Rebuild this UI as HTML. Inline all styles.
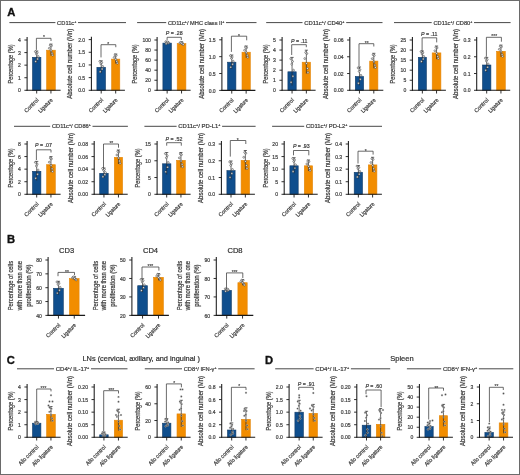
<!DOCTYPE html>
<html><head><meta charset="utf-8"><style>
html,body{margin:0;padding:0;background:#fff;}
body{width:520px;height:475px;overflow:hidden;}
svg{display:block;font-family:"Liberation Sans", sans-serif;will-change:transform;}
</style></head><body>
<svg width="520" height="475" viewBox="0 0 520 475">
<rect x="0" y="0" width="520" height="475" fill="#fff"/>
<text transform="translate(7.35 15.90) scale(1.0 1)" font-size="11.2" font-weight="bold" fill="#111" stroke="#111" stroke-width="0.35">A</text>
<line x1="9.40" y1="22.60" x2="55.40" y2="22.60" stroke="#333" stroke-width="0.9"/>
<line x1="78.00" y1="22.60" x2="126.00" y2="22.60" stroke="#333" stroke-width="0.9"/>
<text transform="translate(66.70 24.60) scale(0.973 1)" font-size="5.9" text-anchor="middle" fill="#3c3c3c" stroke="#3c3c3c" stroke-width="0.22"><tspan>CD11c</tspan><tspan font-size="3.66" dy="-2.1">+</tspan></text>
<line x1="137.10" y1="22.60" x2="166.20" y2="22.60" stroke="#333" stroke-width="0.9"/>
<line x1="226.00" y1="22.60" x2="256.50" y2="22.60" stroke="#333" stroke-width="0.9"/>
<text transform="translate(196.10 24.60) scale(0.963 1)" font-size="5.9" text-anchor="middle" fill="#3c3c3c" stroke="#3c3c3c" stroke-width="0.22"><tspan>CD11c</tspan><tspan font-size="3.66" dy="-2.1">+</tspan><tspan dy="2.1">/ MHC class II</tspan><tspan font-size="3.66" dy="-2.1">+</tspan></text>
<line x1="266.20" y1="22.60" x2="302.50" y2="22.60" stroke="#333" stroke-width="0.9"/>
<line x1="346.20" y1="22.60" x2="382.50" y2="22.60" stroke="#333" stroke-width="0.9"/>
<text transform="translate(324.35 24.60) scale(1.002 1)" font-size="5.9" text-anchor="middle" fill="#3c3c3c" stroke="#3c3c3c" stroke-width="0.22"><tspan>CD11c</tspan><tspan font-size="3.66" dy="-2.1">+</tspan><tspan dy="2.1">/ CD40</tspan><tspan font-size="3.66" dy="-2.1">+</tspan></text>
<line x1="394.00" y1="22.60" x2="431.70" y2="22.60" stroke="#333" stroke-width="0.9"/>
<line x1="474.00" y1="22.60" x2="510.60" y2="22.60" stroke="#333" stroke-width="0.9"/>
<text transform="translate(452.85 24.60) scale(0.967 1)" font-size="5.9" text-anchor="middle" fill="#3c3c3c" stroke="#3c3c3c" stroke-width="0.22"><tspan>CD11c</tspan><tspan font-size="3.66" dy="-2.1">+</tspan><tspan dy="2.1">/ CD80</tspan><tspan font-size="3.66" dy="-2.1">+</tspan></text>
<rect x="32.50" y="57.30" width="8.40" height="33.00" fill="#0f4e8d" stroke="#123b66" stroke-width="0.6"/>
<rect x="46.60" y="50.20" width="8.70" height="40.10" fill="#f28d00" stroke="#e3860a" stroke-width="0.6"/>
<line x1="36.70" y1="51.00" x2="36.70" y2="63.00" stroke="#2a2a2a" stroke-width="0.7"/>
<line x1="35.10" y1="51.00" x2="38.30" y2="51.00" stroke="#2a2a2a" stroke-width="0.7"/>
<line x1="50.95" y1="44.10" x2="50.95" y2="55.70" stroke="#2a2a2a" stroke-width="0.7"/>
<line x1="49.35" y1="44.10" x2="52.55" y2="44.10" stroke="#2a2a2a" stroke-width="0.7"/>
<circle cx="35.35" cy="51.59" r="0.95" fill="#f4f4f4" stroke="#333" stroke-width="0.5"/>
<circle cx="37.60" cy="58.99" r="0.95" fill="#f4f4f4" stroke="#333" stroke-width="0.5"/>
<circle cx="36.36" cy="53.87" r="0.95" fill="#f4f4f4" stroke="#333" stroke-width="0.5"/>
<circle cx="38.16" cy="56.43" r="0.95" fill="#f4f4f4" stroke="#333" stroke-width="0.5"/>
<circle cx="35.69" cy="61.56" r="0.95" fill="#f4f4f4" stroke="#333" stroke-width="0.5"/>
<circle cx="37.21" cy="52.73" r="0.95" fill="#f4f4f4" stroke="#333" stroke-width="0.5"/>
<circle cx="51.47" cy="45.77" r="0.95" fill="#f4f4f4" stroke="#333" stroke-width="0.5"/>
<circle cx="52.11" cy="53.21" r="0.95" fill="#f4f4f4" stroke="#333" stroke-width="0.5"/>
<circle cx="49.32" cy="48.25" r="0.95" fill="#f4f4f4" stroke="#333" stroke-width="0.5"/>
<circle cx="51.07" cy="50.73" r="0.95" fill="#f4f4f4" stroke="#333" stroke-width="0.5"/>
<circle cx="50.25" cy="45.22" r="0.95" fill="#f4f4f4" stroke="#333" stroke-width="0.5"/>
<circle cx="52.64" cy="55.13" r="0.95" fill="#f4f4f4" stroke="#333" stroke-width="0.5"/>
<line x1="27.10" y1="37.10" x2="27.10" y2="90.80" stroke="#1a1a1a" stroke-width="1.05"/>
<line x1="26.60" y1="90.30" x2="60.60" y2="90.30" stroke="#1a1a1a" stroke-width="1.1"/>
<line x1="24.40" y1="90.30" x2="27.10" y2="90.30" stroke="#1a1a1a" stroke-width="0.9"/>
<text transform="translate(20.90 92.40) scale(0.860 1.000)" font-size="5.9" text-anchor="end" fill="#3c3c3c" stroke="#3c3c3c" stroke-width="0.22">0</text>
<line x1="24.40" y1="77.72" x2="27.10" y2="77.72" stroke="#1a1a1a" stroke-width="0.9"/>
<text transform="translate(20.90 79.82) scale(0.860 1.000)" font-size="5.9" text-anchor="end" fill="#3c3c3c" stroke="#3c3c3c" stroke-width="0.22">1</text>
<line x1="24.40" y1="65.15" x2="27.10" y2="65.15" stroke="#1a1a1a" stroke-width="0.9"/>
<text transform="translate(20.90 67.25) scale(0.860 1.000)" font-size="5.9" text-anchor="end" fill="#3c3c3c" stroke="#3c3c3c" stroke-width="0.22">2</text>
<line x1="24.40" y1="52.58" x2="27.10" y2="52.58" stroke="#1a1a1a" stroke-width="0.9"/>
<text transform="translate(20.90 54.68) scale(0.860 1.000)" font-size="5.9" text-anchor="end" fill="#3c3c3c" stroke="#3c3c3c" stroke-width="0.22">3</text>
<line x1="24.40" y1="40.00" x2="27.10" y2="40.00" stroke="#1a1a1a" stroke-width="0.9"/>
<text transform="translate(20.90 42.10) scale(0.860 1.000)" font-size="5.9" text-anchor="end" fill="#3c3c3c" stroke="#3c3c3c" stroke-width="0.22">4</text>
<line x1="36.70" y1="90.30" x2="36.70" y2="93.50" stroke="#1a1a1a" stroke-width="0.9"/>
<line x1="50.95" y1="90.30" x2="50.95" y2="93.50" stroke="#1a1a1a" stroke-width="0.9"/>
<text transform="translate(39.00 100.50) rotate(-45) scale(0.963 1.000)" font-size="5.7" text-anchor="end" fill="#3c3c3c" stroke="#3c3c3c" stroke-width="0.22">Control</text>
<text transform="translate(53.25 100.50) rotate(-45) scale(0.879 1.000)" font-size="5.7" text-anchor="end" fill="#3c3c3c" stroke="#3c3c3c" stroke-width="0.22">Ligature</text>
<polyline points="36.40,49.90 36.40,38.30 51.00,38.30 51.00,41.00" fill="none" stroke="#3a3a3a" stroke-width="0.75"/>
<text transform="translate(43.90 39.30) scale(0.85 1)" font-size="5.8" text-anchor="middle" fill="#333" stroke="#333" stroke-width="0.12">*</text>
<text transform="translate(13.19 63.95) rotate(-90) scale(0.850 1.000)" font-size="6.6" text-anchor="middle" fill="#3c3c3c" stroke="#3c3c3c" stroke-width="0.22">Percentage (%)</text>
<rect x="96.90" y="67.30" width="8.60" height="23.00" fill="#0f4e8d" stroke="#123b66" stroke-width="0.6"/>
<rect x="111.60" y="59.10" width="8.20" height="31.20" fill="#f28d00" stroke="#e3860a" stroke-width="0.6"/>
<line x1="101.20" y1="60.80" x2="101.20" y2="73.20" stroke="#2a2a2a" stroke-width="0.7"/>
<line x1="99.60" y1="60.80" x2="102.80" y2="60.80" stroke="#2a2a2a" stroke-width="0.7"/>
<line x1="115.70" y1="54.00" x2="115.70" y2="63.60" stroke="#2a2a2a" stroke-width="0.7"/>
<line x1="114.10" y1="54.00" x2="117.30" y2="54.00" stroke="#2a2a2a" stroke-width="0.7"/>
<circle cx="99.82" cy="61.40" r="0.95" fill="#f4f4f4" stroke="#333" stroke-width="0.5"/>
<circle cx="102.12" cy="69.06" r="0.95" fill="#f4f4f4" stroke="#333" stroke-width="0.5"/>
<circle cx="100.85" cy="63.76" r="0.95" fill="#f4f4f4" stroke="#333" stroke-width="0.5"/>
<circle cx="102.69" cy="66.41" r="0.95" fill="#f4f4f4" stroke="#333" stroke-width="0.5"/>
<circle cx="100.16" cy="71.71" r="0.95" fill="#f4f4f4" stroke="#333" stroke-width="0.5"/>
<circle cx="101.72" cy="62.58" r="0.95" fill="#f4f4f4" stroke="#333" stroke-width="0.5"/>
<circle cx="116.19" cy="55.38" r="0.95" fill="#f4f4f4" stroke="#333" stroke-width="0.5"/>
<circle cx="116.80" cy="61.54" r="0.95" fill="#f4f4f4" stroke="#333" stroke-width="0.5"/>
<circle cx="114.16" cy="57.43" r="0.95" fill="#f4f4f4" stroke="#333" stroke-width="0.5"/>
<circle cx="115.81" cy="59.48" r="0.95" fill="#f4f4f4" stroke="#333" stroke-width="0.5"/>
<circle cx="115.04" cy="54.92" r="0.95" fill="#f4f4f4" stroke="#333" stroke-width="0.5"/>
<circle cx="117.29" cy="63.13" r="0.95" fill="#f4f4f4" stroke="#333" stroke-width="0.5"/>
<line x1="91.40" y1="36.70" x2="91.40" y2="90.80" stroke="#1a1a1a" stroke-width="1.05"/>
<line x1="90.90" y1="90.30" x2="124.90" y2="90.30" stroke="#1a1a1a" stroke-width="1.1"/>
<line x1="88.70" y1="90.30" x2="91.40" y2="90.30" stroke="#1a1a1a" stroke-width="0.9"/>
<text transform="translate(85.20 92.40) scale(0.860 1.000)" font-size="5.9" text-anchor="end" fill="#3c3c3c" stroke="#3c3c3c" stroke-width="0.22">0.0</text>
<line x1="88.70" y1="77.62" x2="91.40" y2="77.62" stroke="#1a1a1a" stroke-width="0.9"/>
<text transform="translate(85.20 79.72) scale(0.860 1.000)" font-size="5.9" text-anchor="end" fill="#3c3c3c" stroke="#3c3c3c" stroke-width="0.22">0.5</text>
<line x1="88.70" y1="64.95" x2="91.40" y2="64.95" stroke="#1a1a1a" stroke-width="0.9"/>
<text transform="translate(85.20 67.05) scale(0.860 1.000)" font-size="5.9" text-anchor="end" fill="#3c3c3c" stroke="#3c3c3c" stroke-width="0.22">1.0</text>
<line x1="88.70" y1="52.27" x2="91.40" y2="52.27" stroke="#1a1a1a" stroke-width="0.9"/>
<text transform="translate(85.20 54.38) scale(0.860 1.000)" font-size="5.9" text-anchor="end" fill="#3c3c3c" stroke="#3c3c3c" stroke-width="0.22">1.5</text>
<line x1="88.70" y1="39.60" x2="91.40" y2="39.60" stroke="#1a1a1a" stroke-width="0.9"/>
<text transform="translate(85.20 41.70) scale(0.860 1.000)" font-size="5.9" text-anchor="end" fill="#3c3c3c" stroke="#3c3c3c" stroke-width="0.22">2.0</text>
<line x1="101.20" y1="90.30" x2="101.20" y2="93.50" stroke="#1a1a1a" stroke-width="0.9"/>
<line x1="115.70" y1="90.30" x2="115.70" y2="93.50" stroke="#1a1a1a" stroke-width="0.9"/>
<text transform="translate(103.50 100.50) rotate(-45) scale(0.963 1.000)" font-size="5.7" text-anchor="end" fill="#3c3c3c" stroke="#3c3c3c" stroke-width="0.22">Control</text>
<text transform="translate(118.00 100.50) rotate(-45) scale(0.879 1.000)" font-size="5.7" text-anchor="end" fill="#3c3c3c" stroke="#3c3c3c" stroke-width="0.22">Ligature</text>
<polyline points="101.00,57.40 101.00,44.70 115.80,44.70 115.80,47.20" fill="none" stroke="#3a3a3a" stroke-width="0.75"/>
<text transform="translate(108.20 45.50) scale(0.85 1)" font-size="5.8" text-anchor="middle" fill="#333" stroke="#333" stroke-width="0.12">*</text>
<text transform="translate(72.39 63.75) rotate(-90) scale(0.909 1.000)" font-size="6.6" text-anchor="middle" fill="#3c3c3c" stroke="#3c3c3c" stroke-width="0.22">Absolute cell number (Mn)</text>
<rect x="162.90" y="43.10" width="8.50" height="47.20" fill="#0f4e8d" stroke="#123b66" stroke-width="0.6"/>
<rect x="177.20" y="43.60" width="8.70" height="46.70" fill="#f28d00" stroke="#e3860a" stroke-width="0.6"/>
<line x1="167.15" y1="41.50" x2="167.15" y2="44.10" stroke="#2a2a2a" stroke-width="0.7"/>
<line x1="165.55" y1="41.50" x2="168.75" y2="41.50" stroke="#2a2a2a" stroke-width="0.7"/>
<line x1="181.55" y1="42.00" x2="181.55" y2="44.60" stroke="#2a2a2a" stroke-width="0.7"/>
<line x1="179.95" y1="42.00" x2="183.15" y2="42.00" stroke="#2a2a2a" stroke-width="0.7"/>
<circle cx="165.78" cy="41.63" r="0.95" fill="#f4f4f4" stroke="#333" stroke-width="0.5"/>
<circle cx="168.06" cy="43.23" r="0.95" fill="#f4f4f4" stroke="#333" stroke-width="0.5"/>
<circle cx="166.81" cy="42.12" r="0.95" fill="#f4f4f4" stroke="#333" stroke-width="0.5"/>
<circle cx="168.63" cy="42.68" r="0.95" fill="#f4f4f4" stroke="#333" stroke-width="0.5"/>
<circle cx="166.13" cy="43.79" r="0.95" fill="#f4f4f4" stroke="#333" stroke-width="0.5"/>
<circle cx="167.66" cy="41.87" r="0.95" fill="#f4f4f4" stroke="#333" stroke-width="0.5"/>
<circle cx="182.07" cy="42.37" r="0.95" fill="#f4f4f4" stroke="#333" stroke-width="0.5"/>
<circle cx="182.71" cy="44.04" r="0.95" fill="#f4f4f4" stroke="#333" stroke-width="0.5"/>
<circle cx="179.92" cy="42.93" r="0.95" fill="#f4f4f4" stroke="#333" stroke-width="0.5"/>
<circle cx="181.67" cy="43.49" r="0.95" fill="#f4f4f4" stroke="#333" stroke-width="0.5"/>
<circle cx="180.85" cy="42.25" r="0.95" fill="#f4f4f4" stroke="#333" stroke-width="0.5"/>
<circle cx="183.24" cy="44.47" r="0.95" fill="#f4f4f4" stroke="#333" stroke-width="0.5"/>
<line x1="157.10" y1="37.10" x2="157.10" y2="90.80" stroke="#1a1a1a" stroke-width="1.05"/>
<line x1="156.60" y1="90.30" x2="190.60" y2="90.30" stroke="#1a1a1a" stroke-width="1.1"/>
<line x1="154.40" y1="90.30" x2="157.10" y2="90.30" stroke="#1a1a1a" stroke-width="0.9"/>
<text transform="translate(150.90 92.40) scale(0.860 1.000)" font-size="5.9" text-anchor="end" fill="#3c3c3c" stroke="#3c3c3c" stroke-width="0.22">0</text>
<line x1="154.40" y1="80.24" x2="157.10" y2="80.24" stroke="#1a1a1a" stroke-width="0.9"/>
<text transform="translate(150.90 82.34) scale(0.860 1.000)" font-size="5.9" text-anchor="end" fill="#3c3c3c" stroke="#3c3c3c" stroke-width="0.22">20</text>
<line x1="154.40" y1="70.18" x2="157.10" y2="70.18" stroke="#1a1a1a" stroke-width="0.9"/>
<text transform="translate(150.90 72.28) scale(0.860 1.000)" font-size="5.9" text-anchor="end" fill="#3c3c3c" stroke="#3c3c3c" stroke-width="0.22">40</text>
<line x1="154.40" y1="60.12" x2="157.10" y2="60.12" stroke="#1a1a1a" stroke-width="0.9"/>
<text transform="translate(150.90 62.22) scale(0.860 1.000)" font-size="5.9" text-anchor="end" fill="#3c3c3c" stroke="#3c3c3c" stroke-width="0.22">60</text>
<line x1="154.40" y1="50.06" x2="157.10" y2="50.06" stroke="#1a1a1a" stroke-width="0.9"/>
<text transform="translate(150.90 52.16) scale(0.860 1.000)" font-size="5.9" text-anchor="end" fill="#3c3c3c" stroke="#3c3c3c" stroke-width="0.22">80</text>
<line x1="154.40" y1="40.00" x2="157.10" y2="40.00" stroke="#1a1a1a" stroke-width="0.9"/>
<text transform="translate(150.90 42.10) scale(0.860 1.000)" font-size="5.9" text-anchor="end" fill="#3c3c3c" stroke="#3c3c3c" stroke-width="0.22">100</text>
<line x1="167.15" y1="90.30" x2="167.15" y2="93.50" stroke="#1a1a1a" stroke-width="0.9"/>
<line x1="181.55" y1="90.30" x2="181.55" y2="93.50" stroke="#1a1a1a" stroke-width="0.9"/>
<text transform="translate(169.45 100.50) rotate(-45) scale(0.963 1.000)" font-size="5.7" text-anchor="end" fill="#3c3c3c" stroke="#3c3c3c" stroke-width="0.22">Control</text>
<text transform="translate(183.85 100.50) rotate(-45) scale(0.879 1.000)" font-size="5.7" text-anchor="end" fill="#3c3c3c" stroke="#3c3c3c" stroke-width="0.22">Ligature</text>
<polyline points="167.10,40.00 167.10,37.30 181.30,37.30 181.30,40.00" fill="none" stroke="#3a3a3a" stroke-width="0.75"/>
<text transform="translate(174.20 35.10) scale(0.88 1)" font-size="6" text-anchor="middle" fill="#3c3c3c" stroke="#3c3c3c" stroke-width="0.22"><tspan font-style="italic">P</tspan> = .28</text>
<text transform="translate(137.39 63.95) rotate(-90) scale(0.850 1.000)" font-size="6.6" text-anchor="middle" fill="#3c3c3c" stroke="#3c3c3c" stroke-width="0.22">Percentage (%)</text>
<rect x="227.60" y="62.20" width="8.30" height="28.20" fill="#0f4e8d" stroke="#123b66" stroke-width="0.6"/>
<rect x="242.00" y="52.20" width="8.30" height="38.20" fill="#f28d00" stroke="#e3860a" stroke-width="0.6"/>
<line x1="231.75" y1="55.00" x2="231.75" y2="68.80" stroke="#2a2a2a" stroke-width="0.7"/>
<line x1="230.15" y1="55.00" x2="233.35" y2="55.00" stroke="#2a2a2a" stroke-width="0.7"/>
<line x1="246.15" y1="46.00" x2="246.15" y2="57.80" stroke="#2a2a2a" stroke-width="0.7"/>
<line x1="244.55" y1="46.00" x2="247.75" y2="46.00" stroke="#2a2a2a" stroke-width="0.7"/>
<circle cx="230.41" cy="55.67" r="0.95" fill="#f4f4f4" stroke="#333" stroke-width="0.5"/>
<circle cx="232.64" cy="64.19" r="0.95" fill="#f4f4f4" stroke="#333" stroke-width="0.5"/>
<circle cx="231.42" cy="58.29" r="0.95" fill="#f4f4f4" stroke="#333" stroke-width="0.5"/>
<circle cx="233.20" cy="61.24" r="0.95" fill="#f4f4f4" stroke="#333" stroke-width="0.5"/>
<circle cx="230.75" cy="67.14" r="0.95" fill="#f4f4f4" stroke="#333" stroke-width="0.5"/>
<circle cx="232.25" cy="56.98" r="0.95" fill="#f4f4f4" stroke="#333" stroke-width="0.5"/>
<circle cx="246.65" cy="47.70" r="0.95" fill="#f4f4f4" stroke="#333" stroke-width="0.5"/>
<circle cx="247.26" cy="55.26" r="0.95" fill="#f4f4f4" stroke="#333" stroke-width="0.5"/>
<circle cx="244.59" cy="50.22" r="0.95" fill="#f4f4f4" stroke="#333" stroke-width="0.5"/>
<circle cx="246.26" cy="52.74" r="0.95" fill="#f4f4f4" stroke="#333" stroke-width="0.5"/>
<circle cx="245.48" cy="47.14" r="0.95" fill="#f4f4f4" stroke="#333" stroke-width="0.5"/>
<circle cx="247.76" cy="57.22" r="0.95" fill="#f4f4f4" stroke="#333" stroke-width="0.5"/>
<line x1="221.90" y1="36.90" x2="221.90" y2="90.90" stroke="#1a1a1a" stroke-width="1.05"/>
<line x1="221.40" y1="90.40" x2="255.40" y2="90.40" stroke="#1a1a1a" stroke-width="1.1"/>
<line x1="219.20" y1="90.40" x2="221.90" y2="90.40" stroke="#1a1a1a" stroke-width="0.9"/>
<text transform="translate(215.70 92.50) scale(0.860 1.000)" font-size="5.9" text-anchor="end" fill="#3c3c3c" stroke="#3c3c3c" stroke-width="0.22">0.0</text>
<line x1="219.20" y1="73.53" x2="221.90" y2="73.53" stroke="#1a1a1a" stroke-width="0.9"/>
<text transform="translate(215.70 75.63) scale(0.860 1.000)" font-size="5.9" text-anchor="end" fill="#3c3c3c" stroke="#3c3c3c" stroke-width="0.22">0.5</text>
<line x1="219.20" y1="56.67" x2="221.90" y2="56.67" stroke="#1a1a1a" stroke-width="0.9"/>
<text transform="translate(215.70 58.77) scale(0.860 1.000)" font-size="5.9" text-anchor="end" fill="#3c3c3c" stroke="#3c3c3c" stroke-width="0.22">1.0</text>
<line x1="219.20" y1="39.80" x2="221.90" y2="39.80" stroke="#1a1a1a" stroke-width="0.9"/>
<text transform="translate(215.70 41.90) scale(0.860 1.000)" font-size="5.9" text-anchor="end" fill="#3c3c3c" stroke="#3c3c3c" stroke-width="0.22">1.5</text>
<line x1="231.75" y1="90.40" x2="231.75" y2="93.60" stroke="#1a1a1a" stroke-width="0.9"/>
<line x1="246.15" y1="90.40" x2="246.15" y2="93.60" stroke="#1a1a1a" stroke-width="0.9"/>
<text transform="translate(234.05 100.60) rotate(-45) scale(0.963 1.000)" font-size="5.7" text-anchor="end" fill="#3c3c3c" stroke="#3c3c3c" stroke-width="0.22">Control</text>
<text transform="translate(248.45 100.60) rotate(-45) scale(0.879 1.000)" font-size="5.7" text-anchor="end" fill="#3c3c3c" stroke="#3c3c3c" stroke-width="0.22">Ligature</text>
<polyline points="231.40,51.90 231.40,36.20 246.70,36.20 246.70,40.30" fill="none" stroke="#3a3a3a" stroke-width="0.75"/>
<text transform="translate(239.00 37.60) scale(0.85 1)" font-size="5.8" text-anchor="middle" fill="#333" stroke="#333" stroke-width="0.12">*</text>
<text transform="translate(203.99 63.90) rotate(-90) scale(0.909 1.000)" font-size="6.6" text-anchor="middle" fill="#3c3c3c" stroke="#3c3c3c" stroke-width="0.22">Absolute cell number (Mn)</text>
<rect x="287.90" y="71.80" width="8.30" height="18.50" fill="#0f4e8d" stroke="#123b66" stroke-width="0.6"/>
<rect x="302.20" y="62.20" width="8.30" height="28.10" fill="#f28d00" stroke="#e3860a" stroke-width="0.6"/>
<line x1="292.05" y1="57.40" x2="292.05" y2="85.60" stroke="#2a2a2a" stroke-width="0.7"/>
<line x1="290.45" y1="57.40" x2="293.65" y2="57.40" stroke="#2a2a2a" stroke-width="0.7"/>
<line x1="306.35" y1="50.20" x2="306.35" y2="73.60" stroke="#2a2a2a" stroke-width="0.7"/>
<line x1="304.75" y1="50.20" x2="307.95" y2="50.20" stroke="#2a2a2a" stroke-width="0.7"/>
<circle cx="290.72" cy="58.77" r="0.95" fill="#f4f4f4" stroke="#333" stroke-width="0.5"/>
<circle cx="292.94" cy="76.19" r="0.95" fill="#f4f4f4" stroke="#333" stroke-width="0.5"/>
<circle cx="291.72" cy="64.13" r="0.95" fill="#f4f4f4" stroke="#333" stroke-width="0.5"/>
<circle cx="293.50" cy="70.16" r="0.95" fill="#f4f4f4" stroke="#333" stroke-width="0.5"/>
<circle cx="291.05" cy="82.22" r="0.95" fill="#f4f4f4" stroke="#333" stroke-width="0.5"/>
<circle cx="292.55" cy="61.45" r="0.95" fill="#f4f4f4" stroke="#333" stroke-width="0.5"/>
<circle cx="306.85" cy="53.56" r="0.95" fill="#f4f4f4" stroke="#333" stroke-width="0.5"/>
<circle cx="307.46" cy="68.57" r="0.95" fill="#f4f4f4" stroke="#333" stroke-width="0.5"/>
<circle cx="304.79" cy="58.57" r="0.95" fill="#f4f4f4" stroke="#333" stroke-width="0.5"/>
<circle cx="306.46" cy="63.57" r="0.95" fill="#f4f4f4" stroke="#333" stroke-width="0.5"/>
<circle cx="305.68" cy="52.45" r="0.95" fill="#f4f4f4" stroke="#333" stroke-width="0.5"/>
<circle cx="307.96" cy="72.46" r="0.95" fill="#f4f4f4" stroke="#333" stroke-width="0.5"/>
<line x1="282.10" y1="37.10" x2="282.10" y2="90.80" stroke="#1a1a1a" stroke-width="1.05"/>
<line x1="281.60" y1="90.30" x2="315.60" y2="90.30" stroke="#1a1a1a" stroke-width="1.1"/>
<line x1="279.40" y1="90.30" x2="282.10" y2="90.30" stroke="#1a1a1a" stroke-width="0.9"/>
<text transform="translate(275.90 92.40) scale(0.860 1.000)" font-size="5.9" text-anchor="end" fill="#3c3c3c" stroke="#3c3c3c" stroke-width="0.22">0</text>
<line x1="279.40" y1="80.24" x2="282.10" y2="80.24" stroke="#1a1a1a" stroke-width="0.9"/>
<text transform="translate(275.90 82.34) scale(0.860 1.000)" font-size="5.9" text-anchor="end" fill="#3c3c3c" stroke="#3c3c3c" stroke-width="0.22">1</text>
<line x1="279.40" y1="70.18" x2="282.10" y2="70.18" stroke="#1a1a1a" stroke-width="0.9"/>
<text transform="translate(275.90 72.28) scale(0.860 1.000)" font-size="5.9" text-anchor="end" fill="#3c3c3c" stroke="#3c3c3c" stroke-width="0.22">2</text>
<line x1="279.40" y1="60.12" x2="282.10" y2="60.12" stroke="#1a1a1a" stroke-width="0.9"/>
<text transform="translate(275.90 62.22) scale(0.860 1.000)" font-size="5.9" text-anchor="end" fill="#3c3c3c" stroke="#3c3c3c" stroke-width="0.22">3</text>
<line x1="279.40" y1="50.06" x2="282.10" y2="50.06" stroke="#1a1a1a" stroke-width="0.9"/>
<text transform="translate(275.90 52.16) scale(0.860 1.000)" font-size="5.9" text-anchor="end" fill="#3c3c3c" stroke="#3c3c3c" stroke-width="0.22">4</text>
<line x1="279.40" y1="40.00" x2="282.10" y2="40.00" stroke="#1a1a1a" stroke-width="0.9"/>
<text transform="translate(275.90 42.10) scale(0.860 1.000)" font-size="5.9" text-anchor="end" fill="#3c3c3c" stroke="#3c3c3c" stroke-width="0.22">5</text>
<line x1="292.05" y1="90.30" x2="292.05" y2="93.50" stroke="#1a1a1a" stroke-width="0.9"/>
<line x1="306.35" y1="90.30" x2="306.35" y2="93.50" stroke="#1a1a1a" stroke-width="0.9"/>
<text transform="translate(294.35 100.50) rotate(-45) scale(0.963 1.000)" font-size="5.7" text-anchor="end" fill="#3c3c3c" stroke="#3c3c3c" stroke-width="0.22">Control</text>
<text transform="translate(308.65 100.50) rotate(-45) scale(0.879 1.000)" font-size="5.7" text-anchor="end" fill="#3c3c3c" stroke="#3c3c3c" stroke-width="0.22">Ligature</text>
<polyline points="291.70,55.00 291.70,44.70 306.30,44.70 306.30,47.20" fill="none" stroke="#3a3a3a" stroke-width="0.75"/>
<text transform="translate(299.20 43.00) scale(0.88 1)" font-size="6" text-anchor="middle" fill="#3c3c3c" stroke="#3c3c3c" stroke-width="0.22"><tspan font-style="italic">P</tspan> = .11</text>
<text transform="translate(268.49 63.95) rotate(-90) scale(0.850 1.000)" font-size="6.6" text-anchor="middle" fill="#3c3c3c" stroke="#3c3c3c" stroke-width="0.22">Percentage (%)</text>
<rect x="355.30" y="76.50" width="8.30" height="13.80" fill="#0f4e8d" stroke="#123b66" stroke-width="0.6"/>
<rect x="369.70" y="61.10" width="8.20" height="29.20" fill="#f28d00" stroke="#e3860a" stroke-width="0.6"/>
<line x1="359.45" y1="67.00" x2="359.45" y2="85.40" stroke="#2a2a2a" stroke-width="0.7"/>
<line x1="357.85" y1="67.00" x2="361.05" y2="67.00" stroke="#2a2a2a" stroke-width="0.7"/>
<line x1="373.80" y1="53.30" x2="373.80" y2="68.30" stroke="#2a2a2a" stroke-width="0.7"/>
<line x1="372.20" y1="53.30" x2="375.40" y2="53.30" stroke="#2a2a2a" stroke-width="0.7"/>
<circle cx="358.12" cy="67.90" r="0.95" fill="#f4f4f4" stroke="#333" stroke-width="0.5"/>
<circle cx="360.34" cy="79.26" r="0.95" fill="#f4f4f4" stroke="#333" stroke-width="0.5"/>
<circle cx="359.12" cy="71.39" r="0.95" fill="#f4f4f4" stroke="#333" stroke-width="0.5"/>
<circle cx="360.90" cy="75.33" r="0.95" fill="#f4f4f4" stroke="#333" stroke-width="0.5"/>
<circle cx="358.45" cy="83.19" r="0.95" fill="#f4f4f4" stroke="#333" stroke-width="0.5"/>
<circle cx="359.95" cy="69.64" r="0.95" fill="#f4f4f4" stroke="#333" stroke-width="0.5"/>
<circle cx="374.29" cy="55.46" r="0.95" fill="#f4f4f4" stroke="#333" stroke-width="0.5"/>
<circle cx="374.90" cy="65.08" r="0.95" fill="#f4f4f4" stroke="#333" stroke-width="0.5"/>
<circle cx="372.26" cy="58.66" r="0.95" fill="#f4f4f4" stroke="#333" stroke-width="0.5"/>
<circle cx="373.91" cy="61.87" r="0.95" fill="#f4f4f4" stroke="#333" stroke-width="0.5"/>
<circle cx="373.14" cy="54.74" r="0.95" fill="#f4f4f4" stroke="#333" stroke-width="0.5"/>
<circle cx="375.39" cy="67.57" r="0.95" fill="#f4f4f4" stroke="#333" stroke-width="0.5"/>
<line x1="349.80" y1="37.10" x2="349.80" y2="90.80" stroke="#1a1a1a" stroke-width="1.05"/>
<line x1="349.30" y1="90.30" x2="383.30" y2="90.30" stroke="#1a1a1a" stroke-width="1.1"/>
<line x1="347.10" y1="90.30" x2="349.80" y2="90.30" stroke="#1a1a1a" stroke-width="0.9"/>
<text transform="translate(343.60 92.40) scale(0.860 1.000)" font-size="5.9" text-anchor="end" fill="#3c3c3c" stroke="#3c3c3c" stroke-width="0.22">0.00</text>
<line x1="347.10" y1="73.53" x2="349.80" y2="73.53" stroke="#1a1a1a" stroke-width="0.9"/>
<text transform="translate(343.60 75.63) scale(0.860 1.000)" font-size="5.9" text-anchor="end" fill="#3c3c3c" stroke="#3c3c3c" stroke-width="0.22">0.02</text>
<line x1="347.10" y1="56.77" x2="349.80" y2="56.77" stroke="#1a1a1a" stroke-width="0.9"/>
<text transform="translate(343.60 58.87) scale(0.860 1.000)" font-size="5.9" text-anchor="end" fill="#3c3c3c" stroke="#3c3c3c" stroke-width="0.22">0.04</text>
<line x1="347.10" y1="40.00" x2="349.80" y2="40.00" stroke="#1a1a1a" stroke-width="0.9"/>
<text transform="translate(343.60 42.10) scale(0.860 1.000)" font-size="5.9" text-anchor="end" fill="#3c3c3c" stroke="#3c3c3c" stroke-width="0.22">0.06</text>
<line x1="359.45" y1="90.30" x2="359.45" y2="93.50" stroke="#1a1a1a" stroke-width="0.9"/>
<line x1="373.80" y1="90.30" x2="373.80" y2="93.50" stroke="#1a1a1a" stroke-width="0.9"/>
<text transform="translate(361.75 100.50) rotate(-45) scale(0.963 1.000)" font-size="5.7" text-anchor="end" fill="#3c3c3c" stroke="#3c3c3c" stroke-width="0.22">Control</text>
<text transform="translate(376.10 100.50) rotate(-45) scale(0.879 1.000)" font-size="5.7" text-anchor="end" fill="#3c3c3c" stroke="#3c3c3c" stroke-width="0.22">Ligature</text>
<polyline points="359.00,66.30 359.00,43.70 373.80,43.70 373.80,46.50" fill="none" stroke="#3a3a3a" stroke-width="0.75"/>
<text transform="translate(366.70 44.80) scale(0.85 1)" font-size="5.8" text-anchor="middle" fill="#333" stroke="#333" stroke-width="0.12">**</text>
<text transform="translate(327.69 63.95) rotate(-90) scale(0.909 1.000)" font-size="6.6" text-anchor="middle" fill="#3c3c3c" stroke="#3c3c3c" stroke-width="0.22">Absolute cell number (Mn)</text>
<rect x="418.30" y="57.30" width="8.10" height="33.00" fill="#0f4e8d" stroke="#123b66" stroke-width="0.6"/>
<rect x="432.20" y="52.90" width="8.70" height="37.40" fill="#f28d00" stroke="#e3860a" stroke-width="0.6"/>
<line x1="422.35" y1="51.00" x2="422.35" y2="63.00" stroke="#2a2a2a" stroke-width="0.7"/>
<line x1="420.75" y1="51.00" x2="423.95" y2="51.00" stroke="#2a2a2a" stroke-width="0.7"/>
<line x1="436.55" y1="46.00" x2="436.55" y2="59.20" stroke="#2a2a2a" stroke-width="0.7"/>
<line x1="434.95" y1="46.00" x2="438.15" y2="46.00" stroke="#2a2a2a" stroke-width="0.7"/>
<circle cx="421.05" cy="51.59" r="0.95" fill="#f4f4f4" stroke="#333" stroke-width="0.5"/>
<circle cx="423.22" cy="58.99" r="0.95" fill="#f4f4f4" stroke="#333" stroke-width="0.5"/>
<circle cx="422.02" cy="53.87" r="0.95" fill="#f4f4f4" stroke="#333" stroke-width="0.5"/>
<circle cx="423.76" cy="56.43" r="0.95" fill="#f4f4f4" stroke="#333" stroke-width="0.5"/>
<circle cx="421.37" cy="61.56" r="0.95" fill="#f4f4f4" stroke="#333" stroke-width="0.5"/>
<circle cx="422.84" cy="52.73" r="0.95" fill="#f4f4f4" stroke="#333" stroke-width="0.5"/>
<circle cx="437.07" cy="47.90" r="0.95" fill="#f4f4f4" stroke="#333" stroke-width="0.5"/>
<circle cx="437.71" cy="56.36" r="0.95" fill="#f4f4f4" stroke="#333" stroke-width="0.5"/>
<circle cx="434.92" cy="50.72" r="0.95" fill="#f4f4f4" stroke="#333" stroke-width="0.5"/>
<circle cx="436.67" cy="53.54" r="0.95" fill="#f4f4f4" stroke="#333" stroke-width="0.5"/>
<circle cx="435.85" cy="47.27" r="0.95" fill="#f4f4f4" stroke="#333" stroke-width="0.5"/>
<circle cx="438.24" cy="58.56" r="0.95" fill="#f4f4f4" stroke="#333" stroke-width="0.5"/>
<line x1="412.40" y1="37.10" x2="412.40" y2="90.80" stroke="#1a1a1a" stroke-width="1.05"/>
<line x1="411.90" y1="90.30" x2="445.90" y2="90.30" stroke="#1a1a1a" stroke-width="1.1"/>
<line x1="409.70" y1="90.30" x2="412.40" y2="90.30" stroke="#1a1a1a" stroke-width="0.9"/>
<text transform="translate(406.20 92.40) scale(0.860 1.000)" font-size="5.9" text-anchor="end" fill="#3c3c3c" stroke="#3c3c3c" stroke-width="0.22">0</text>
<line x1="409.70" y1="80.24" x2="412.40" y2="80.24" stroke="#1a1a1a" stroke-width="0.9"/>
<text transform="translate(406.20 82.34) scale(0.860 1.000)" font-size="5.9" text-anchor="end" fill="#3c3c3c" stroke="#3c3c3c" stroke-width="0.22">5</text>
<line x1="409.70" y1="70.18" x2="412.40" y2="70.18" stroke="#1a1a1a" stroke-width="0.9"/>
<text transform="translate(406.20 72.28) scale(0.860 1.000)" font-size="5.9" text-anchor="end" fill="#3c3c3c" stroke="#3c3c3c" stroke-width="0.22">10</text>
<line x1="409.70" y1="60.12" x2="412.40" y2="60.12" stroke="#1a1a1a" stroke-width="0.9"/>
<text transform="translate(406.20 62.22) scale(0.860 1.000)" font-size="5.9" text-anchor="end" fill="#3c3c3c" stroke="#3c3c3c" stroke-width="0.22">15</text>
<line x1="409.70" y1="50.06" x2="412.40" y2="50.06" stroke="#1a1a1a" stroke-width="0.9"/>
<text transform="translate(406.20 52.16) scale(0.860 1.000)" font-size="5.9" text-anchor="end" fill="#3c3c3c" stroke="#3c3c3c" stroke-width="0.22">20</text>
<line x1="409.70" y1="40.00" x2="412.40" y2="40.00" stroke="#1a1a1a" stroke-width="0.9"/>
<text transform="translate(406.20 42.10) scale(0.860 1.000)" font-size="5.9" text-anchor="end" fill="#3c3c3c" stroke="#3c3c3c" stroke-width="0.22">25</text>
<line x1="422.35" y1="90.30" x2="422.35" y2="93.50" stroke="#1a1a1a" stroke-width="0.9"/>
<line x1="436.55" y1="90.30" x2="436.55" y2="93.50" stroke="#1a1a1a" stroke-width="0.9"/>
<text transform="translate(424.65 100.50) rotate(-45) scale(0.963 1.000)" font-size="5.7" text-anchor="end" fill="#3c3c3c" stroke="#3c3c3c" stroke-width="0.22">Control</text>
<text transform="translate(438.85 100.50) rotate(-45) scale(0.879 1.000)" font-size="5.7" text-anchor="end" fill="#3c3c3c" stroke="#3c3c3c" stroke-width="0.22">Ligature</text>
<polyline points="422.10,51.30 422.10,37.80 436.70,37.80 436.70,42.40" fill="none" stroke="#3a3a3a" stroke-width="0.75"/>
<text transform="translate(429.20 35.80) scale(0.88 1)" font-size="6" text-anchor="middle" fill="#3c3c3c" stroke="#3c3c3c" stroke-width="0.22"><tspan font-style="italic">P</tspan> = .11</text>
<text transform="translate(395.39 63.95) rotate(-90) scale(0.850 1.000)" font-size="6.6" text-anchor="middle" fill="#3c3c3c" stroke="#3c3c3c" stroke-width="0.22">Percentage (%)</text>
<rect x="482.50" y="65.00" width="8.40" height="25.30" fill="#0f4e8d" stroke="#123b66" stroke-width="0.6"/>
<rect x="496.60" y="51.30" width="8.70" height="39.00" fill="#f28d00" stroke="#e3860a" stroke-width="0.6"/>
<line x1="486.70" y1="57.40" x2="486.70" y2="72.00" stroke="#2a2a2a" stroke-width="0.7"/>
<line x1="485.10" y1="57.40" x2="488.30" y2="57.40" stroke="#2a2a2a" stroke-width="0.7"/>
<line x1="500.95" y1="45.10" x2="500.95" y2="56.90" stroke="#2a2a2a" stroke-width="0.7"/>
<line x1="499.35" y1="45.10" x2="502.55" y2="45.10" stroke="#2a2a2a" stroke-width="0.7"/>
<circle cx="485.35" cy="58.11" r="0.95" fill="#f4f4f4" stroke="#333" stroke-width="0.5"/>
<circle cx="487.60" cy="67.13" r="0.95" fill="#f4f4f4" stroke="#333" stroke-width="0.5"/>
<circle cx="486.36" cy="60.89" r="0.95" fill="#f4f4f4" stroke="#333" stroke-width="0.5"/>
<circle cx="488.16" cy="64.01" r="0.95" fill="#f4f4f4" stroke="#333" stroke-width="0.5"/>
<circle cx="485.69" cy="70.25" r="0.95" fill="#f4f4f4" stroke="#333" stroke-width="0.5"/>
<circle cx="487.21" cy="59.50" r="0.95" fill="#f4f4f4" stroke="#333" stroke-width="0.5"/>
<circle cx="501.47" cy="46.80" r="0.95" fill="#f4f4f4" stroke="#333" stroke-width="0.5"/>
<circle cx="502.11" cy="54.36" r="0.95" fill="#f4f4f4" stroke="#333" stroke-width="0.5"/>
<circle cx="499.32" cy="49.32" r="0.95" fill="#f4f4f4" stroke="#333" stroke-width="0.5"/>
<circle cx="501.07" cy="51.84" r="0.95" fill="#f4f4f4" stroke="#333" stroke-width="0.5"/>
<circle cx="500.25" cy="46.24" r="0.95" fill="#f4f4f4" stroke="#333" stroke-width="0.5"/>
<circle cx="502.64" cy="56.32" r="0.95" fill="#f4f4f4" stroke="#333" stroke-width="0.5"/>
<line x1="476.70" y1="37.10" x2="476.70" y2="90.80" stroke="#1a1a1a" stroke-width="1.05"/>
<line x1="476.20" y1="90.30" x2="510.20" y2="90.30" stroke="#1a1a1a" stroke-width="1.1"/>
<line x1="474.00" y1="90.30" x2="476.70" y2="90.30" stroke="#1a1a1a" stroke-width="0.9"/>
<text transform="translate(470.50 92.40) scale(0.860 1.000)" font-size="5.9" text-anchor="end" fill="#3c3c3c" stroke="#3c3c3c" stroke-width="0.22">0.0</text>
<line x1="474.00" y1="73.53" x2="476.70" y2="73.53" stroke="#1a1a1a" stroke-width="0.9"/>
<text transform="translate(470.50 75.63) scale(0.860 1.000)" font-size="5.9" text-anchor="end" fill="#3c3c3c" stroke="#3c3c3c" stroke-width="0.22">0.1</text>
<line x1="474.00" y1="56.77" x2="476.70" y2="56.77" stroke="#1a1a1a" stroke-width="0.9"/>
<text transform="translate(470.50 58.87) scale(0.860 1.000)" font-size="5.9" text-anchor="end" fill="#3c3c3c" stroke="#3c3c3c" stroke-width="0.22">0.2</text>
<line x1="474.00" y1="40.00" x2="476.70" y2="40.00" stroke="#1a1a1a" stroke-width="0.9"/>
<text transform="translate(470.50 42.10) scale(0.860 1.000)" font-size="5.9" text-anchor="end" fill="#3c3c3c" stroke="#3c3c3c" stroke-width="0.22">0.3</text>
<line x1="486.70" y1="90.30" x2="486.70" y2="93.50" stroke="#1a1a1a" stroke-width="0.9"/>
<line x1="500.95" y1="90.30" x2="500.95" y2="93.50" stroke="#1a1a1a" stroke-width="0.9"/>
<text transform="translate(489.00 100.50) rotate(-45) scale(0.963 1.000)" font-size="5.7" text-anchor="end" fill="#3c3c3c" stroke="#3c3c3c" stroke-width="0.22">Control</text>
<text transform="translate(503.25 100.50) rotate(-45) scale(0.879 1.000)" font-size="5.7" text-anchor="end" fill="#3c3c3c" stroke="#3c3c3c" stroke-width="0.22">Ligature</text>
<polyline points="486.40,56.70 486.40,37.30 501.40,37.30 501.40,41.70" fill="none" stroke="#3a3a3a" stroke-width="0.75"/>
<text transform="translate(494.20 38.00) scale(0.85 1)" font-size="5.8" text-anchor="middle" fill="#333" stroke="#333" stroke-width="0.12">***</text>
<text transform="translate(457.89 63.95) rotate(-90) scale(0.909 1.000)" font-size="6.6" text-anchor="middle" fill="#3c3c3c" stroke="#3c3c3c" stroke-width="0.22">Absolute cell number (Mn)</text>
<line x1="14.00" y1="126.30" x2="50.20" y2="126.30" stroke="#333" stroke-width="0.9"/>
<line x1="92.50" y1="126.30" x2="127.90" y2="126.30" stroke="#333" stroke-width="0.9"/>
<text transform="translate(71.35 128.30) scale(0.967 1)" font-size="5.9" text-anchor="middle" fill="#3c3c3c" stroke="#3c3c3c" stroke-width="0.22"><tspan>CD11c</tspan><tspan font-size="3.66" dy="-2.1">+</tspan><tspan dy="2.1">/ CD86</tspan><tspan font-size="3.66" dy="-2.1">+</tspan></text>
<line x1="144.40" y1="126.30" x2="176.60" y2="126.30" stroke="#333" stroke-width="0.9"/>
<line x1="222.10" y1="126.30" x2="255.60" y2="126.30" stroke="#333" stroke-width="0.9"/>
<text transform="translate(199.35 128.30) scale(1.005 1)" font-size="5.9" text-anchor="middle" fill="#3c3c3c" stroke="#3c3c3c" stroke-width="0.22"><tspan>CD11c</tspan><tspan font-size="3.66" dy="-2.1">+</tspan><tspan dy="2.1">/ PD-L1</tspan><tspan font-size="3.66" dy="-2.1">+</tspan></text>
<line x1="272.10" y1="126.30" x2="304.20" y2="126.30" stroke="#333" stroke-width="0.9"/>
<line x1="349.20" y1="126.30" x2="382.00" y2="126.30" stroke="#333" stroke-width="0.9"/>
<text transform="translate(326.70 128.30) scale(0.994 1)" font-size="5.9" text-anchor="middle" fill="#3c3c3c" stroke="#3c3c3c" stroke-width="0.22"><tspan>CD11c</tspan><tspan font-size="3.66" dy="-2.1">+</tspan><tspan dy="2.1">/ PD-L2</tspan><tspan font-size="3.66" dy="-2.1">+</tspan></text>
<rect x="32.50" y="171.30" width="8.40" height="23.00" fill="#0f4e8d" stroke="#123b66" stroke-width="0.6"/>
<rect x="46.60" y="164.70" width="8.70" height="29.60" fill="#f28d00" stroke="#e3860a" stroke-width="0.6"/>
<line x1="36.70" y1="161.40" x2="36.70" y2="180.60" stroke="#2a2a2a" stroke-width="0.7"/>
<line x1="35.10" y1="161.40" x2="38.30" y2="161.40" stroke="#2a2a2a" stroke-width="0.7"/>
<line x1="50.95" y1="156.60" x2="50.95" y2="172.20" stroke="#2a2a2a" stroke-width="0.7"/>
<line x1="49.35" y1="156.60" x2="52.55" y2="156.60" stroke="#2a2a2a" stroke-width="0.7"/>
<circle cx="35.35" cy="162.34" r="0.95" fill="#f4f4f4" stroke="#333" stroke-width="0.5"/>
<circle cx="37.60" cy="174.19" r="0.95" fill="#f4f4f4" stroke="#333" stroke-width="0.5"/>
<circle cx="36.36" cy="165.98" r="0.95" fill="#f4f4f4" stroke="#333" stroke-width="0.5"/>
<circle cx="38.16" cy="170.09" r="0.95" fill="#f4f4f4" stroke="#333" stroke-width="0.5"/>
<circle cx="35.69" cy="178.30" r="0.95" fill="#f4f4f4" stroke="#333" stroke-width="0.5"/>
<circle cx="37.21" cy="164.16" r="0.95" fill="#f4f4f4" stroke="#333" stroke-width="0.5"/>
<circle cx="51.47" cy="158.84" r="0.95" fill="#f4f4f4" stroke="#333" stroke-width="0.5"/>
<circle cx="52.11" cy="168.85" r="0.95" fill="#f4f4f4" stroke="#333" stroke-width="0.5"/>
<circle cx="49.32" cy="162.18" r="0.95" fill="#f4f4f4" stroke="#333" stroke-width="0.5"/>
<circle cx="51.07" cy="165.51" r="0.95" fill="#f4f4f4" stroke="#333" stroke-width="0.5"/>
<circle cx="50.25" cy="158.10" r="0.95" fill="#f4f4f4" stroke="#333" stroke-width="0.5"/>
<circle cx="52.64" cy="171.44" r="0.95" fill="#f4f4f4" stroke="#333" stroke-width="0.5"/>
<line x1="27.10" y1="141.10" x2="27.10" y2="194.80" stroke="#1a1a1a" stroke-width="1.05"/>
<line x1="26.60" y1="194.30" x2="60.60" y2="194.30" stroke="#1a1a1a" stroke-width="1.1"/>
<line x1="24.40" y1="194.30" x2="27.10" y2="194.30" stroke="#1a1a1a" stroke-width="0.9"/>
<text transform="translate(20.90 196.40) scale(0.860 1.000)" font-size="5.9" text-anchor="end" fill="#3c3c3c" stroke="#3c3c3c" stroke-width="0.22">0</text>
<line x1="24.40" y1="181.73" x2="27.10" y2="181.73" stroke="#1a1a1a" stroke-width="0.9"/>
<text transform="translate(20.90 183.83) scale(0.860 1.000)" font-size="5.9" text-anchor="end" fill="#3c3c3c" stroke="#3c3c3c" stroke-width="0.22">2</text>
<line x1="24.40" y1="169.15" x2="27.10" y2="169.15" stroke="#1a1a1a" stroke-width="0.9"/>
<text transform="translate(20.90 171.25) scale(0.860 1.000)" font-size="5.9" text-anchor="end" fill="#3c3c3c" stroke="#3c3c3c" stroke-width="0.22">4</text>
<line x1="24.40" y1="156.57" x2="27.10" y2="156.57" stroke="#1a1a1a" stroke-width="0.9"/>
<text transform="translate(20.90 158.67) scale(0.860 1.000)" font-size="5.9" text-anchor="end" fill="#3c3c3c" stroke="#3c3c3c" stroke-width="0.22">6</text>
<line x1="24.40" y1="144.00" x2="27.10" y2="144.00" stroke="#1a1a1a" stroke-width="0.9"/>
<text transform="translate(20.90 146.10) scale(0.860 1.000)" font-size="5.9" text-anchor="end" fill="#3c3c3c" stroke="#3c3c3c" stroke-width="0.22">8</text>
<line x1="36.70" y1="194.30" x2="36.70" y2="197.50" stroke="#1a1a1a" stroke-width="0.9"/>
<line x1="50.95" y1="194.30" x2="50.95" y2="197.50" stroke="#1a1a1a" stroke-width="0.9"/>
<text transform="translate(39.00 204.50) rotate(-45) scale(0.963 1.000)" font-size="5.7" text-anchor="end" fill="#3c3c3c" stroke="#3c3c3c" stroke-width="0.22">Control</text>
<text transform="translate(53.25 204.50) rotate(-45) scale(0.879 1.000)" font-size="5.7" text-anchor="end" fill="#3c3c3c" stroke="#3c3c3c" stroke-width="0.22">Ligature</text>
<polyline points="36.40,160.00 36.40,149.80 51.00,149.80 51.00,152.50" fill="none" stroke="#3a3a3a" stroke-width="0.75"/>
<text transform="translate(43.50 147.30) scale(0.88 1)" font-size="6" text-anchor="middle" fill="#3c3c3c" stroke="#3c3c3c" stroke-width="0.22"><tspan font-style="italic">P</tspan> = .07</text>
<text transform="translate(13.34 167.95) rotate(-90) scale(0.850 1.000)" font-size="6.6" text-anchor="middle" fill="#3c3c3c" stroke="#3c3c3c" stroke-width="0.22">Percentage (%)</text>
<rect x="99.70" y="173.30" width="8.50" height="21.00" fill="#0f4e8d" stroke="#123b66" stroke-width="0.6"/>
<rect x="114.30" y="157.30" width="8.30" height="37.00" fill="#f28d00" stroke="#e3860a" stroke-width="0.6"/>
<line x1="103.95" y1="168.00" x2="103.95" y2="178.00" stroke="#2a2a2a" stroke-width="0.7"/>
<line x1="102.35" y1="168.00" x2="105.55" y2="168.00" stroke="#2a2a2a" stroke-width="0.7"/>
<line x1="118.45" y1="150.00" x2="118.45" y2="164.00" stroke="#2a2a2a" stroke-width="0.7"/>
<line x1="116.85" y1="150.00" x2="120.05" y2="150.00" stroke="#2a2a2a" stroke-width="0.7"/>
<circle cx="102.59" cy="168.49" r="0.95" fill="#f4f4f4" stroke="#333" stroke-width="0.5"/>
<circle cx="104.86" cy="174.66" r="0.95" fill="#f4f4f4" stroke="#333" stroke-width="0.5"/>
<circle cx="103.61" cy="170.39" r="0.95" fill="#f4f4f4" stroke="#333" stroke-width="0.5"/>
<circle cx="105.43" cy="172.53" r="0.95" fill="#f4f4f4" stroke="#333" stroke-width="0.5"/>
<circle cx="102.93" cy="176.80" r="0.95" fill="#f4f4f4" stroke="#333" stroke-width="0.5"/>
<circle cx="104.46" cy="169.44" r="0.95" fill="#f4f4f4" stroke="#333" stroke-width="0.5"/>
<circle cx="118.95" cy="152.01" r="0.95" fill="#f4f4f4" stroke="#333" stroke-width="0.5"/>
<circle cx="119.56" cy="160.99" r="0.95" fill="#f4f4f4" stroke="#333" stroke-width="0.5"/>
<circle cx="116.89" cy="155.00" r="0.95" fill="#f4f4f4" stroke="#333" stroke-width="0.5"/>
<circle cx="118.56" cy="158.00" r="0.95" fill="#f4f4f4" stroke="#333" stroke-width="0.5"/>
<circle cx="117.78" cy="151.35" r="0.95" fill="#f4f4f4" stroke="#333" stroke-width="0.5"/>
<circle cx="120.06" cy="163.32" r="0.95" fill="#f4f4f4" stroke="#333" stroke-width="0.5"/>
<line x1="94.20" y1="141.10" x2="94.20" y2="194.80" stroke="#1a1a1a" stroke-width="1.05"/>
<line x1="93.70" y1="194.30" x2="127.70" y2="194.30" stroke="#1a1a1a" stroke-width="1.1"/>
<line x1="91.50" y1="194.30" x2="94.20" y2="194.30" stroke="#1a1a1a" stroke-width="0.9"/>
<text transform="translate(88.00 196.40) scale(0.860 1.000)" font-size="5.9" text-anchor="end" fill="#3c3c3c" stroke="#3c3c3c" stroke-width="0.22">0.00</text>
<line x1="91.50" y1="181.73" x2="94.20" y2="181.73" stroke="#1a1a1a" stroke-width="0.9"/>
<text transform="translate(88.00 183.83) scale(0.860 1.000)" font-size="5.9" text-anchor="end" fill="#3c3c3c" stroke="#3c3c3c" stroke-width="0.22">0.02</text>
<line x1="91.50" y1="169.15" x2="94.20" y2="169.15" stroke="#1a1a1a" stroke-width="0.9"/>
<text transform="translate(88.00 171.25) scale(0.860 1.000)" font-size="5.9" text-anchor="end" fill="#3c3c3c" stroke="#3c3c3c" stroke-width="0.22">0.04</text>
<line x1="91.50" y1="156.57" x2="94.20" y2="156.57" stroke="#1a1a1a" stroke-width="0.9"/>
<text transform="translate(88.00 158.67) scale(0.860 1.000)" font-size="5.9" text-anchor="end" fill="#3c3c3c" stroke="#3c3c3c" stroke-width="0.22">0.06</text>
<line x1="91.50" y1="144.00" x2="94.20" y2="144.00" stroke="#1a1a1a" stroke-width="0.9"/>
<text transform="translate(88.00 146.10) scale(0.860 1.000)" font-size="5.9" text-anchor="end" fill="#3c3c3c" stroke="#3c3c3c" stroke-width="0.22">0.08</text>
<line x1="103.95" y1="194.30" x2="103.95" y2="197.50" stroke="#1a1a1a" stroke-width="0.9"/>
<line x1="118.45" y1="194.30" x2="118.45" y2="197.50" stroke="#1a1a1a" stroke-width="0.9"/>
<text transform="translate(106.25 204.50) rotate(-45) scale(0.963 1.000)" font-size="5.7" text-anchor="end" fill="#3c3c3c" stroke="#3c3c3c" stroke-width="0.22">Control</text>
<text transform="translate(120.75 204.50) rotate(-45) scale(0.879 1.000)" font-size="5.7" text-anchor="end" fill="#3c3c3c" stroke="#3c3c3c" stroke-width="0.22">Ligature</text>
<polyline points="103.50,168.30 103.50,144.00 118.50,144.00 118.50,147.70" fill="none" stroke="#3a3a3a" stroke-width="0.75"/>
<text transform="translate(111.30 145.40) scale(0.85 1)" font-size="5.8" text-anchor="middle" fill="#333" stroke="#333" stroke-width="0.12">**</text>
<text transform="translate(73.49 167.95) rotate(-90) scale(0.909 1.000)" font-size="6.6" text-anchor="middle" fill="#3c3c3c" stroke="#3c3c3c" stroke-width="0.22">Absolute cell number (Mn)</text>
<rect x="162.50" y="163.80" width="8.40" height="30.50" fill="#0f4e8d" stroke="#123b66" stroke-width="0.6"/>
<rect x="176.60" y="160.30" width="8.70" height="34.00" fill="#f28d00" stroke="#e3860a" stroke-width="0.6"/>
<line x1="166.70" y1="152.50" x2="166.70" y2="174.50" stroke="#2a2a2a" stroke-width="0.7"/>
<line x1="165.10" y1="152.50" x2="168.30" y2="152.50" stroke="#2a2a2a" stroke-width="0.7"/>
<line x1="180.95" y1="152.50" x2="180.95" y2="167.50" stroke="#2a2a2a" stroke-width="0.7"/>
<line x1="179.35" y1="152.50" x2="182.55" y2="152.50" stroke="#2a2a2a" stroke-width="0.7"/>
<circle cx="165.35" cy="153.57" r="0.95" fill="#f4f4f4" stroke="#333" stroke-width="0.5"/>
<circle cx="167.60" cy="167.16" r="0.95" fill="#f4f4f4" stroke="#333" stroke-width="0.5"/>
<circle cx="166.36" cy="157.75" r="0.95" fill="#f4f4f4" stroke="#333" stroke-width="0.5"/>
<circle cx="168.16" cy="162.46" r="0.95" fill="#f4f4f4" stroke="#333" stroke-width="0.5"/>
<circle cx="165.69" cy="171.86" r="0.95" fill="#f4f4f4" stroke="#333" stroke-width="0.5"/>
<circle cx="167.21" cy="155.66" r="0.95" fill="#f4f4f4" stroke="#333" stroke-width="0.5"/>
<circle cx="181.47" cy="154.66" r="0.95" fill="#f4f4f4" stroke="#333" stroke-width="0.5"/>
<circle cx="182.11" cy="164.28" r="0.95" fill="#f4f4f4" stroke="#333" stroke-width="0.5"/>
<circle cx="179.32" cy="157.86" r="0.95" fill="#f4f4f4" stroke="#333" stroke-width="0.5"/>
<circle cx="181.07" cy="161.07" r="0.95" fill="#f4f4f4" stroke="#333" stroke-width="0.5"/>
<circle cx="180.25" cy="153.94" r="0.95" fill="#f4f4f4" stroke="#333" stroke-width="0.5"/>
<circle cx="182.64" cy="166.77" r="0.95" fill="#f4f4f4" stroke="#333" stroke-width="0.5"/>
<line x1="157.10" y1="141.10" x2="157.10" y2="194.80" stroke="#1a1a1a" stroke-width="1.05"/>
<line x1="156.60" y1="194.30" x2="190.60" y2="194.30" stroke="#1a1a1a" stroke-width="1.1"/>
<line x1="154.40" y1="194.30" x2="157.10" y2="194.30" stroke="#1a1a1a" stroke-width="0.9"/>
<text transform="translate(150.90 196.40) scale(0.860 1.000)" font-size="5.9" text-anchor="end" fill="#3c3c3c" stroke="#3c3c3c" stroke-width="0.22">0</text>
<line x1="154.40" y1="177.53" x2="157.10" y2="177.53" stroke="#1a1a1a" stroke-width="0.9"/>
<text transform="translate(150.90 179.63) scale(0.860 1.000)" font-size="5.9" text-anchor="end" fill="#3c3c3c" stroke="#3c3c3c" stroke-width="0.22">5</text>
<line x1="154.40" y1="160.77" x2="157.10" y2="160.77" stroke="#1a1a1a" stroke-width="0.9"/>
<text transform="translate(150.90 162.87) scale(0.860 1.000)" font-size="5.9" text-anchor="end" fill="#3c3c3c" stroke="#3c3c3c" stroke-width="0.22">10</text>
<line x1="154.40" y1="144.00" x2="157.10" y2="144.00" stroke="#1a1a1a" stroke-width="0.9"/>
<text transform="translate(150.90 146.10) scale(0.860 1.000)" font-size="5.9" text-anchor="end" fill="#3c3c3c" stroke="#3c3c3c" stroke-width="0.22">15</text>
<line x1="166.70" y1="194.30" x2="166.70" y2="197.50" stroke="#1a1a1a" stroke-width="0.9"/>
<line x1="180.95" y1="194.30" x2="180.95" y2="197.50" stroke="#1a1a1a" stroke-width="0.9"/>
<text transform="translate(169.00 204.50) rotate(-45) scale(0.963 1.000)" font-size="5.7" text-anchor="end" fill="#3c3c3c" stroke="#3c3c3c" stroke-width="0.22">Control</text>
<text transform="translate(183.25 204.50) rotate(-45) scale(0.879 1.000)" font-size="5.7" text-anchor="end" fill="#3c3c3c" stroke="#3c3c3c" stroke-width="0.22">Ligature</text>
<polyline points="166.70,145.70 166.70,142.70 181.30,142.70 181.30,145.70" fill="none" stroke="#3a3a3a" stroke-width="0.75"/>
<text transform="translate(173.90 141.10) scale(0.88 1)" font-size="6" text-anchor="middle" fill="#3c3c3c" stroke="#3c3c3c" stroke-width="0.22"><tspan font-style="italic">P</tspan> = .52</text>
<text transform="translate(140.39 167.95) rotate(-90) scale(0.850 1.000)" font-size="6.6" text-anchor="middle" fill="#3c3c3c" stroke="#3c3c3c" stroke-width="0.22">Percentage (%)</text>
<rect x="226.90" y="170.60" width="8.20" height="23.70" fill="#0f4e8d" stroke="#123b66" stroke-width="0.6"/>
<rect x="241.10" y="160.30" width="8.50" height="34.00" fill="#f28d00" stroke="#e3860a" stroke-width="0.6"/>
<line x1="231.00" y1="161.00" x2="231.00" y2="179.60" stroke="#2a2a2a" stroke-width="0.7"/>
<line x1="229.40" y1="161.00" x2="232.60" y2="161.00" stroke="#2a2a2a" stroke-width="0.7"/>
<line x1="245.35" y1="150.50" x2="245.35" y2="169.50" stroke="#2a2a2a" stroke-width="0.7"/>
<line x1="243.75" y1="150.50" x2="246.95" y2="150.50" stroke="#2a2a2a" stroke-width="0.7"/>
<circle cx="229.68" cy="161.91" r="0.95" fill="#f4f4f4" stroke="#333" stroke-width="0.5"/>
<circle cx="231.88" cy="173.39" r="0.95" fill="#f4f4f4" stroke="#333" stroke-width="0.5"/>
<circle cx="230.67" cy="165.44" r="0.95" fill="#f4f4f4" stroke="#333" stroke-width="0.5"/>
<circle cx="232.43" cy="169.42" r="0.95" fill="#f4f4f4" stroke="#333" stroke-width="0.5"/>
<circle cx="230.01" cy="177.37" r="0.95" fill="#f4f4f4" stroke="#333" stroke-width="0.5"/>
<circle cx="231.50" cy="163.67" r="0.95" fill="#f4f4f4" stroke="#333" stroke-width="0.5"/>
<circle cx="245.86" cy="153.23" r="0.95" fill="#f4f4f4" stroke="#333" stroke-width="0.5"/>
<circle cx="246.49" cy="165.41" r="0.95" fill="#f4f4f4" stroke="#333" stroke-width="0.5"/>
<circle cx="243.76" cy="157.29" r="0.95" fill="#f4f4f4" stroke="#333" stroke-width="0.5"/>
<circle cx="245.46" cy="161.35" r="0.95" fill="#f4f4f4" stroke="#333" stroke-width="0.5"/>
<circle cx="244.67" cy="152.33" r="0.95" fill="#f4f4f4" stroke="#333" stroke-width="0.5"/>
<circle cx="247.00" cy="168.57" r="0.95" fill="#f4f4f4" stroke="#333" stroke-width="0.5"/>
<line x1="221.40" y1="141.10" x2="221.40" y2="194.80" stroke="#1a1a1a" stroke-width="1.05"/>
<line x1="220.90" y1="194.30" x2="254.90" y2="194.30" stroke="#1a1a1a" stroke-width="1.1"/>
<line x1="218.70" y1="194.30" x2="221.40" y2="194.30" stroke="#1a1a1a" stroke-width="0.9"/>
<text transform="translate(215.20 196.40) scale(0.860 1.000)" font-size="5.9" text-anchor="end" fill="#3c3c3c" stroke="#3c3c3c" stroke-width="0.22">0.0</text>
<line x1="218.70" y1="177.53" x2="221.40" y2="177.53" stroke="#1a1a1a" stroke-width="0.9"/>
<text transform="translate(215.20 179.63) scale(0.860 1.000)" font-size="5.9" text-anchor="end" fill="#3c3c3c" stroke="#3c3c3c" stroke-width="0.22">0.1</text>
<line x1="218.70" y1="160.77" x2="221.40" y2="160.77" stroke="#1a1a1a" stroke-width="0.9"/>
<text transform="translate(215.20 162.87) scale(0.860 1.000)" font-size="5.9" text-anchor="end" fill="#3c3c3c" stroke="#3c3c3c" stroke-width="0.22">0.2</text>
<line x1="218.70" y1="144.00" x2="221.40" y2="144.00" stroke="#1a1a1a" stroke-width="0.9"/>
<text transform="translate(215.20 146.10) scale(0.860 1.000)" font-size="5.9" text-anchor="end" fill="#3c3c3c" stroke="#3c3c3c" stroke-width="0.22">0.3</text>
<line x1="231.00" y1="194.30" x2="231.00" y2="197.50" stroke="#1a1a1a" stroke-width="0.9"/>
<line x1="245.35" y1="194.30" x2="245.35" y2="197.50" stroke="#1a1a1a" stroke-width="0.9"/>
<text transform="translate(233.30 204.50) rotate(-45) scale(0.963 1.000)" font-size="5.7" text-anchor="end" fill="#3c3c3c" stroke="#3c3c3c" stroke-width="0.22">Control</text>
<text transform="translate(247.65 204.50) rotate(-45) scale(0.879 1.000)" font-size="5.7" text-anchor="end" fill="#3c3c3c" stroke="#3c3c3c" stroke-width="0.22">Ligature</text>
<polyline points="230.30,156.60 230.30,140.50 245.80,140.50 245.80,144.00" fill="none" stroke="#3a3a3a" stroke-width="0.75"/>
<text transform="translate(237.80 141.50) scale(0.85 1)" font-size="5.8" text-anchor="middle" fill="#333" stroke="#333" stroke-width="0.12">*</text>
<text transform="translate(202.89 167.95) rotate(-90) scale(0.909 1.000)" font-size="6.6" text-anchor="middle" fill="#3c3c3c" stroke="#3c3c3c" stroke-width="0.22">Absolute cell number (Mn)</text>
<rect x="289.90" y="165.80" width="8.30" height="28.50" fill="#0f4e8d" stroke="#123b66" stroke-width="0.6"/>
<rect x="304.30" y="165.80" width="8.30" height="28.50" fill="#f28d00" stroke="#e3860a" stroke-width="0.6"/>
<line x1="294.05" y1="157.70" x2="294.05" y2="173.30" stroke="#2a2a2a" stroke-width="0.7"/>
<line x1="292.45" y1="157.70" x2="295.65" y2="157.70" stroke="#2a2a2a" stroke-width="0.7"/>
<line x1="308.45" y1="160.00" x2="308.45" y2="171.00" stroke="#2a2a2a" stroke-width="0.7"/>
<line x1="306.85" y1="160.00" x2="310.05" y2="160.00" stroke="#2a2a2a" stroke-width="0.7"/>
<circle cx="292.72" cy="158.46" r="0.95" fill="#f4f4f4" stroke="#333" stroke-width="0.5"/>
<circle cx="294.94" cy="168.09" r="0.95" fill="#f4f4f4" stroke="#333" stroke-width="0.5"/>
<circle cx="293.72" cy="161.42" r="0.95" fill="#f4f4f4" stroke="#333" stroke-width="0.5"/>
<circle cx="295.50" cy="164.76" r="0.95" fill="#f4f4f4" stroke="#333" stroke-width="0.5"/>
<circle cx="293.05" cy="171.43" r="0.95" fill="#f4f4f4" stroke="#333" stroke-width="0.5"/>
<circle cx="294.55" cy="159.94" r="0.95" fill="#f4f4f4" stroke="#333" stroke-width="0.5"/>
<circle cx="308.95" cy="161.58" r="0.95" fill="#f4f4f4" stroke="#333" stroke-width="0.5"/>
<circle cx="309.56" cy="168.63" r="0.95" fill="#f4f4f4" stroke="#333" stroke-width="0.5"/>
<circle cx="306.89" cy="163.93" r="0.95" fill="#f4f4f4" stroke="#333" stroke-width="0.5"/>
<circle cx="308.56" cy="166.28" r="0.95" fill="#f4f4f4" stroke="#333" stroke-width="0.5"/>
<circle cx="307.78" cy="161.06" r="0.95" fill="#f4f4f4" stroke="#333" stroke-width="0.5"/>
<circle cx="310.06" cy="170.46" r="0.95" fill="#f4f4f4" stroke="#333" stroke-width="0.5"/>
<line x1="284.20" y1="141.10" x2="284.20" y2="194.80" stroke="#1a1a1a" stroke-width="1.05"/>
<line x1="283.70" y1="194.30" x2="317.70" y2="194.30" stroke="#1a1a1a" stroke-width="1.1"/>
<line x1="281.50" y1="194.30" x2="284.20" y2="194.30" stroke="#1a1a1a" stroke-width="0.9"/>
<text transform="translate(278.00 196.40) scale(0.860 1.000)" font-size="5.9" text-anchor="end" fill="#3c3c3c" stroke="#3c3c3c" stroke-width="0.22">0</text>
<line x1="281.50" y1="181.73" x2="284.20" y2="181.73" stroke="#1a1a1a" stroke-width="0.9"/>
<text transform="translate(278.00 183.83) scale(0.860 1.000)" font-size="5.9" text-anchor="end" fill="#3c3c3c" stroke="#3c3c3c" stroke-width="0.22">5</text>
<line x1="281.50" y1="169.15" x2="284.20" y2="169.15" stroke="#1a1a1a" stroke-width="0.9"/>
<text transform="translate(278.00 171.25) scale(0.860 1.000)" font-size="5.9" text-anchor="end" fill="#3c3c3c" stroke="#3c3c3c" stroke-width="0.22">10</text>
<line x1="281.50" y1="156.57" x2="284.20" y2="156.57" stroke="#1a1a1a" stroke-width="0.9"/>
<text transform="translate(278.00 158.67) scale(0.860 1.000)" font-size="5.9" text-anchor="end" fill="#3c3c3c" stroke="#3c3c3c" stroke-width="0.22">15</text>
<line x1="281.50" y1="144.00" x2="284.20" y2="144.00" stroke="#1a1a1a" stroke-width="0.9"/>
<text transform="translate(278.00 146.10) scale(0.860 1.000)" font-size="5.9" text-anchor="end" fill="#3c3c3c" stroke="#3c3c3c" stroke-width="0.22">20</text>
<line x1="294.05" y1="194.30" x2="294.05" y2="197.50" stroke="#1a1a1a" stroke-width="0.9"/>
<line x1="308.45" y1="194.30" x2="308.45" y2="197.50" stroke="#1a1a1a" stroke-width="0.9"/>
<text transform="translate(296.35 204.50) rotate(-45) scale(0.963 1.000)" font-size="5.7" text-anchor="end" fill="#3c3c3c" stroke="#3c3c3c" stroke-width="0.22">Control</text>
<text transform="translate(310.75 204.50) rotate(-45) scale(0.879 1.000)" font-size="5.7" text-anchor="end" fill="#3c3c3c" stroke="#3c3c3c" stroke-width="0.22">Ligature</text>
<polyline points="293.50,155.30 293.50,150.50 308.80,150.50 308.80,155.30" fill="none" stroke="#3a3a3a" stroke-width="0.75"/>
<text transform="translate(301.30 148.40) scale(0.88 1)" font-size="6" text-anchor="middle" fill="#3c3c3c" stroke="#3c3c3c" stroke-width="0.22"><tspan font-style="italic">P</tspan> = .93</text>
<text transform="translate(267.59 167.95) rotate(-90) scale(0.850 1.000)" font-size="6.6" text-anchor="middle" fill="#3c3c3c" stroke="#3c3c3c" stroke-width="0.22">Percentage (%)</text>
<rect x="354.20" y="172.30" width="8.30" height="22.00" fill="#0f4e8d" stroke="#123b66" stroke-width="0.6"/>
<rect x="368.30" y="164.90" width="8.60" height="29.40" fill="#f28d00" stroke="#e3860a" stroke-width="0.6"/>
<line x1="358.35" y1="165.50" x2="358.35" y2="178.50" stroke="#2a2a2a" stroke-width="0.7"/>
<line x1="356.75" y1="165.50" x2="359.95" y2="165.50" stroke="#2a2a2a" stroke-width="0.7"/>
<line x1="372.60" y1="157.30" x2="372.60" y2="171.90" stroke="#2a2a2a" stroke-width="0.7"/>
<line x1="371.00" y1="157.30" x2="374.20" y2="157.30" stroke="#2a2a2a" stroke-width="0.7"/>
<circle cx="357.02" cy="166.13" r="0.95" fill="#f4f4f4" stroke="#333" stroke-width="0.5"/>
<circle cx="359.24" cy="174.16" r="0.95" fill="#f4f4f4" stroke="#333" stroke-width="0.5"/>
<circle cx="358.02" cy="168.60" r="0.95" fill="#f4f4f4" stroke="#333" stroke-width="0.5"/>
<circle cx="359.80" cy="171.38" r="0.95" fill="#f4f4f4" stroke="#333" stroke-width="0.5"/>
<circle cx="357.35" cy="176.94" r="0.95" fill="#f4f4f4" stroke="#333" stroke-width="0.5"/>
<circle cx="358.85" cy="167.37" r="0.95" fill="#f4f4f4" stroke="#333" stroke-width="0.5"/>
<circle cx="373.12" cy="159.40" r="0.95" fill="#f4f4f4" stroke="#333" stroke-width="0.5"/>
<circle cx="373.75" cy="168.76" r="0.95" fill="#f4f4f4" stroke="#333" stroke-width="0.5"/>
<circle cx="370.99" cy="162.52" r="0.95" fill="#f4f4f4" stroke="#333" stroke-width="0.5"/>
<circle cx="372.72" cy="165.64" r="0.95" fill="#f4f4f4" stroke="#333" stroke-width="0.5"/>
<circle cx="371.91" cy="158.71" r="0.95" fill="#f4f4f4" stroke="#333" stroke-width="0.5"/>
<circle cx="374.27" cy="171.19" r="0.95" fill="#f4f4f4" stroke="#333" stroke-width="0.5"/>
<line x1="348.40" y1="141.10" x2="348.40" y2="194.80" stroke="#1a1a1a" stroke-width="1.05"/>
<line x1="347.90" y1="194.30" x2="381.90" y2="194.30" stroke="#1a1a1a" stroke-width="1.1"/>
<line x1="345.70" y1="194.30" x2="348.40" y2="194.30" stroke="#1a1a1a" stroke-width="0.9"/>
<text transform="translate(342.20 196.40) scale(0.860 1.000)" font-size="5.9" text-anchor="end" fill="#3c3c3c" stroke="#3c3c3c" stroke-width="0.22">0.0</text>
<line x1="345.70" y1="181.73" x2="348.40" y2="181.73" stroke="#1a1a1a" stroke-width="0.9"/>
<text transform="translate(342.20 183.83) scale(0.860 1.000)" font-size="5.9" text-anchor="end" fill="#3c3c3c" stroke="#3c3c3c" stroke-width="0.22">0.1</text>
<line x1="345.70" y1="169.15" x2="348.40" y2="169.15" stroke="#1a1a1a" stroke-width="0.9"/>
<text transform="translate(342.20 171.25) scale(0.860 1.000)" font-size="5.9" text-anchor="end" fill="#3c3c3c" stroke="#3c3c3c" stroke-width="0.22">0.2</text>
<line x1="345.70" y1="156.57" x2="348.40" y2="156.57" stroke="#1a1a1a" stroke-width="0.9"/>
<text transform="translate(342.20 158.67) scale(0.860 1.000)" font-size="5.9" text-anchor="end" fill="#3c3c3c" stroke="#3c3c3c" stroke-width="0.22">0.3</text>
<line x1="345.70" y1="144.00" x2="348.40" y2="144.00" stroke="#1a1a1a" stroke-width="0.9"/>
<text transform="translate(342.20 146.10) scale(0.860 1.000)" font-size="5.9" text-anchor="end" fill="#3c3c3c" stroke="#3c3c3c" stroke-width="0.22">0.4</text>
<line x1="358.35" y1="194.30" x2="358.35" y2="197.50" stroke="#1a1a1a" stroke-width="0.9"/>
<line x1="372.60" y1="194.30" x2="372.60" y2="197.50" stroke="#1a1a1a" stroke-width="0.9"/>
<text transform="translate(360.65 204.50) rotate(-45) scale(0.963 1.000)" font-size="5.7" text-anchor="end" fill="#3c3c3c" stroke="#3c3c3c" stroke-width="0.22">Control</text>
<text transform="translate(374.90 204.50) rotate(-45) scale(0.879 1.000)" font-size="5.7" text-anchor="end" fill="#3c3c3c" stroke="#3c3c3c" stroke-width="0.22">Ligature</text>
<polyline points="358.00,163.50 358.00,151.20 373.10,151.20 373.10,154.60" fill="none" stroke="#3a3a3a" stroke-width="0.75"/>
<text transform="translate(365.80 152.90) scale(0.85 1)" font-size="5.8" text-anchor="middle" fill="#333" stroke="#333" stroke-width="0.12">*</text>
<text transform="translate(330.29 167.95) rotate(-90) scale(0.909 1.000)" font-size="6.6" text-anchor="middle" fill="#3c3c3c" stroke="#3c3c3c" stroke-width="0.22">Absolute cell number (Mn)</text>
<text transform="translate(7.05 243.30) scale(1.0 1)" font-size="11.2" font-weight="bold" fill="#111" stroke="#111" stroke-width="0.35">B</text>
<rect x="53.60" y="288.30" width="9.70" height="27.10" fill="#0f4e8d" stroke="#123b66" stroke-width="0.6"/>
<rect x="69.40" y="278.60" width="9.70" height="36.80" fill="#f28d00" stroke="#e3860a" stroke-width="0.6"/>
<line x1="58.45" y1="281.30" x2="58.45" y2="294.70" stroke="#2a2a2a" stroke-width="0.7"/>
<line x1="56.85" y1="281.30" x2="60.05" y2="281.30" stroke="#2a2a2a" stroke-width="0.7"/>
<line x1="74.25" y1="276.50" x2="74.25" y2="280.10" stroke="#2a2a2a" stroke-width="0.7"/>
<line x1="72.65" y1="276.50" x2="75.85" y2="276.50" stroke="#2a2a2a" stroke-width="0.7"/>
<circle cx="56.91" cy="281.95" r="0.95" fill="#f4f4f4" stroke="#333" stroke-width="0.5"/>
<circle cx="59.48" cy="290.23" r="0.95" fill="#f4f4f4" stroke="#333" stroke-width="0.5"/>
<circle cx="58.06" cy="284.50" r="0.95" fill="#f4f4f4" stroke="#333" stroke-width="0.5"/>
<circle cx="60.12" cy="287.36" r="0.95" fill="#f4f4f4" stroke="#333" stroke-width="0.5"/>
<circle cx="57.29" cy="293.09" r="0.95" fill="#f4f4f4" stroke="#333" stroke-width="0.5"/>
<circle cx="59.03" cy="283.23" r="0.95" fill="#f4f4f4" stroke="#333" stroke-width="0.5"/>
<circle cx="74.83" cy="277.02" r="0.95" fill="#f4f4f4" stroke="#333" stroke-width="0.5"/>
<circle cx="75.54" cy="279.33" r="0.95" fill="#f4f4f4" stroke="#333" stroke-width="0.5"/>
<circle cx="72.45" cy="277.79" r="0.95" fill="#f4f4f4" stroke="#333" stroke-width="0.5"/>
<circle cx="74.38" cy="278.56" r="0.95" fill="#f4f4f4" stroke="#333" stroke-width="0.5"/>
<circle cx="73.48" cy="276.85" r="0.95" fill="#f4f4f4" stroke="#333" stroke-width="0.5"/>
<circle cx="76.12" cy="279.92" r="0.95" fill="#f4f4f4" stroke="#333" stroke-width="0.5"/>
<line x1="48.10" y1="257.10" x2="48.10" y2="315.90" stroke="#1a1a1a" stroke-width="1.05"/>
<line x1="47.60" y1="315.40" x2="85.10" y2="315.40" stroke="#1a1a1a" stroke-width="1.1"/>
<line x1="45.40" y1="315.40" x2="48.10" y2="315.40" stroke="#1a1a1a" stroke-width="0.9"/>
<text transform="translate(41.90 317.50) scale(0.860 1.000)" font-size="5.9" text-anchor="end" fill="#3c3c3c" stroke="#3c3c3c" stroke-width="0.22">40</text>
<line x1="45.40" y1="301.55" x2="48.10" y2="301.55" stroke="#1a1a1a" stroke-width="0.9"/>
<text transform="translate(41.90 303.65) scale(0.860 1.000)" font-size="5.9" text-anchor="end" fill="#3c3c3c" stroke="#3c3c3c" stroke-width="0.22">50</text>
<line x1="45.40" y1="287.70" x2="48.10" y2="287.70" stroke="#1a1a1a" stroke-width="0.9"/>
<text transform="translate(41.90 289.80) scale(0.860 1.000)" font-size="5.9" text-anchor="end" fill="#3c3c3c" stroke="#3c3c3c" stroke-width="0.22">60</text>
<line x1="45.40" y1="273.85" x2="48.10" y2="273.85" stroke="#1a1a1a" stroke-width="0.9"/>
<text transform="translate(41.90 275.95) scale(0.860 1.000)" font-size="5.9" text-anchor="end" fill="#3c3c3c" stroke="#3c3c3c" stroke-width="0.22">70</text>
<line x1="45.40" y1="260.00" x2="48.10" y2="260.00" stroke="#1a1a1a" stroke-width="0.9"/>
<text transform="translate(41.90 262.10) scale(0.860 1.000)" font-size="5.9" text-anchor="end" fill="#3c3c3c" stroke="#3c3c3c" stroke-width="0.22">80</text>
<line x1="58.45" y1="315.40" x2="58.45" y2="318.60" stroke="#1a1a1a" stroke-width="0.9"/>
<line x1="74.25" y1="315.40" x2="74.25" y2="318.60" stroke="#1a1a1a" stroke-width="0.9"/>
<text transform="translate(60.75 325.60) rotate(-45) scale(0.963 1.000)" font-size="5.7" text-anchor="end" fill="#3c3c3c" stroke="#3c3c3c" stroke-width="0.22">Control</text>
<text transform="translate(76.55 325.60) rotate(-45) scale(0.879 1.000)" font-size="5.7" text-anchor="end" fill="#3c3c3c" stroke="#3c3c3c" stroke-width="0.22">Ligature</text>
<polyline points="58.00,276.20 58.00,272.40 74.50,272.40 74.50,275.00" fill="none" stroke="#3a3a3a" stroke-width="0.75"/>
<text transform="translate(66.90 273.70) scale(0.85 1)" font-size="5.8" text-anchor="middle" fill="#333" stroke="#333" stroke-width="0.12">**</text>
<text transform="translate(13.20 285.60) rotate(-90) scale(0.880 1.000)" font-size="6.6" text-anchor="middle" fill="#3c3c3c" stroke="#3c3c3c" stroke-width="0.22">Percentage of cells</text>
<text transform="translate(22.00 285.60) rotate(-90) scale(0.880 1.000)" font-size="6.6" text-anchor="middle" fill="#3c3c3c" stroke="#3c3c3c" stroke-width="0.22">with more than one</text>
<text transform="translate(30.80 285.60) rotate(-90) scale(0.910 1.000)" font-size="6.6" text-anchor="middle" fill="#3c3c3c" stroke="#3c3c3c" stroke-width="0.22">proliferation (%)</text>
<text transform="translate(66.70 252.60)" font-size="7.6" text-anchor="middle" fill="#333" stroke="#333" stroke-width="0.22">CD3</text>
<rect x="137.70" y="285.70" width="9.70" height="29.70" fill="#0f4e8d" stroke="#123b66" stroke-width="0.6"/>
<rect x="153.60" y="277.30" width="9.80" height="38.10" fill="#f28d00" stroke="#e3860a" stroke-width="0.6"/>
<line x1="142.55" y1="278.70" x2="142.55" y2="292.10" stroke="#2a2a2a" stroke-width="0.7"/>
<line x1="140.95" y1="278.70" x2="144.15" y2="278.70" stroke="#2a2a2a" stroke-width="0.7"/>
<line x1="158.50" y1="273.60" x2="158.50" y2="280.40" stroke="#2a2a2a" stroke-width="0.7"/>
<line x1="156.90" y1="273.60" x2="160.10" y2="273.60" stroke="#2a2a2a" stroke-width="0.7"/>
<circle cx="141.01" cy="279.35" r="0.95" fill="#f4f4f4" stroke="#333" stroke-width="0.5"/>
<circle cx="143.58" cy="287.63" r="0.95" fill="#f4f4f4" stroke="#333" stroke-width="0.5"/>
<circle cx="142.16" cy="281.90" r="0.95" fill="#f4f4f4" stroke="#333" stroke-width="0.5"/>
<circle cx="144.22" cy="284.76" r="0.95" fill="#f4f4f4" stroke="#333" stroke-width="0.5"/>
<circle cx="141.39" cy="290.49" r="0.95" fill="#f4f4f4" stroke="#333" stroke-width="0.5"/>
<circle cx="143.13" cy="280.63" r="0.95" fill="#f4f4f4" stroke="#333" stroke-width="0.5"/>
<circle cx="159.09" cy="274.58" r="0.95" fill="#f4f4f4" stroke="#333" stroke-width="0.5"/>
<circle cx="159.80" cy="278.94" r="0.95" fill="#f4f4f4" stroke="#333" stroke-width="0.5"/>
<circle cx="156.68" cy="276.03" r="0.95" fill="#f4f4f4" stroke="#333" stroke-width="0.5"/>
<circle cx="158.63" cy="277.48" r="0.95" fill="#f4f4f4" stroke="#333" stroke-width="0.5"/>
<circle cx="157.72" cy="274.25" r="0.95" fill="#f4f4f4" stroke="#333" stroke-width="0.5"/>
<circle cx="160.38" cy="280.07" r="0.95" fill="#f4f4f4" stroke="#333" stroke-width="0.5"/>
<line x1="131.90" y1="257.10" x2="131.90" y2="315.90" stroke="#1a1a1a" stroke-width="1.05"/>
<line x1="131.40" y1="315.40" x2="168.90" y2="315.40" stroke="#1a1a1a" stroke-width="1.1"/>
<line x1="129.20" y1="315.40" x2="131.90" y2="315.40" stroke="#1a1a1a" stroke-width="0.9"/>
<text transform="translate(125.70 317.50) scale(0.860 1.000)" font-size="5.9" text-anchor="end" fill="#3c3c3c" stroke="#3c3c3c" stroke-width="0.22">20</text>
<line x1="129.20" y1="296.93" x2="131.90" y2="296.93" stroke="#1a1a1a" stroke-width="0.9"/>
<text transform="translate(125.70 299.03) scale(0.860 1.000)" font-size="5.9" text-anchor="end" fill="#3c3c3c" stroke="#3c3c3c" stroke-width="0.22">30</text>
<line x1="129.20" y1="278.47" x2="131.90" y2="278.47" stroke="#1a1a1a" stroke-width="0.9"/>
<text transform="translate(125.70 280.57) scale(0.860 1.000)" font-size="5.9" text-anchor="end" fill="#3c3c3c" stroke="#3c3c3c" stroke-width="0.22">40</text>
<line x1="129.20" y1="260.00" x2="131.90" y2="260.00" stroke="#1a1a1a" stroke-width="0.9"/>
<text transform="translate(125.70 262.10) scale(0.860 1.000)" font-size="5.9" text-anchor="end" fill="#3c3c3c" stroke="#3c3c3c" stroke-width="0.22">50</text>
<line x1="142.55" y1="315.40" x2="142.55" y2="318.60" stroke="#1a1a1a" stroke-width="0.9"/>
<line x1="158.50" y1="315.40" x2="158.50" y2="318.60" stroke="#1a1a1a" stroke-width="0.9"/>
<text transform="translate(144.85 325.60) rotate(-45) scale(0.963 1.000)" font-size="5.7" text-anchor="end" fill="#3c3c3c" stroke="#3c3c3c" stroke-width="0.22">Control</text>
<text transform="translate(160.80 325.60) rotate(-45) scale(0.879 1.000)" font-size="5.7" text-anchor="end" fill="#3c3c3c" stroke="#3c3c3c" stroke-width="0.22">Ligature</text>
<polyline points="142.00,278.00 142.00,267.00 158.90,267.00 158.90,270.60" fill="none" stroke="#3a3a3a" stroke-width="0.75"/>
<text transform="translate(150.40 268.20) scale(0.85 1)" font-size="5.8" text-anchor="middle" fill="#333" stroke="#333" stroke-width="0.12">***</text>
<text transform="translate(97.60 285.60) rotate(-90) scale(0.880 1.000)" font-size="6.6" text-anchor="middle" fill="#3c3c3c" stroke="#3c3c3c" stroke-width="0.22">Percentage of cells</text>
<text transform="translate(106.40 285.60) rotate(-90) scale(0.880 1.000)" font-size="6.6" text-anchor="middle" fill="#3c3c3c" stroke="#3c3c3c" stroke-width="0.22">with more than one</text>
<text transform="translate(115.20 285.60) rotate(-90) scale(0.910 1.000)" font-size="6.6" text-anchor="middle" fill="#3c3c3c" stroke="#3c3c3c" stroke-width="0.22">proliferation (%)</text>
<text transform="translate(150.50 252.60)" font-size="7.6" text-anchor="middle" fill="#333" stroke="#333" stroke-width="0.22">CD4</text>
<rect x="222.10" y="290.40" width="9.30" height="25.00" fill="#0f4e8d" stroke="#123b66" stroke-width="0.6"/>
<rect x="237.90" y="282.70" width="9.30" height="32.70" fill="#f28d00" stroke="#e3860a" stroke-width="0.6"/>
<line x1="226.75" y1="288.60" x2="226.75" y2="291.60" stroke="#2a2a2a" stroke-width="0.7"/>
<line x1="225.15" y1="288.60" x2="228.35" y2="288.60" stroke="#2a2a2a" stroke-width="0.7"/>
<line x1="242.55" y1="279.50" x2="242.55" y2="285.30" stroke="#2a2a2a" stroke-width="0.7"/>
<line x1="240.95" y1="279.50" x2="244.15" y2="279.50" stroke="#2a2a2a" stroke-width="0.7"/>
<circle cx="225.27" cy="288.75" r="0.95" fill="#f4f4f4" stroke="#333" stroke-width="0.5"/>
<circle cx="227.74" cy="290.60" r="0.95" fill="#f4f4f4" stroke="#333" stroke-width="0.5"/>
<circle cx="226.38" cy="289.32" r="0.95" fill="#f4f4f4" stroke="#333" stroke-width="0.5"/>
<circle cx="228.36" cy="289.96" r="0.95" fill="#f4f4f4" stroke="#333" stroke-width="0.5"/>
<circle cx="225.64" cy="291.24" r="0.95" fill="#f4f4f4" stroke="#333" stroke-width="0.5"/>
<circle cx="227.31" cy="289.03" r="0.95" fill="#f4f4f4" stroke="#333" stroke-width="0.5"/>
<circle cx="243.11" cy="280.33" r="0.95" fill="#f4f4f4" stroke="#333" stroke-width="0.5"/>
<circle cx="243.79" cy="284.05" r="0.95" fill="#f4f4f4" stroke="#333" stroke-width="0.5"/>
<circle cx="240.82" cy="281.57" r="0.95" fill="#f4f4f4" stroke="#333" stroke-width="0.5"/>
<circle cx="242.67" cy="282.81" r="0.95" fill="#f4f4f4" stroke="#333" stroke-width="0.5"/>
<circle cx="241.81" cy="280.06" r="0.95" fill="#f4f4f4" stroke="#333" stroke-width="0.5"/>
<circle cx="244.34" cy="285.02" r="0.95" fill="#f4f4f4" stroke="#333" stroke-width="0.5"/>
<line x1="216.30" y1="257.10" x2="216.30" y2="315.90" stroke="#1a1a1a" stroke-width="1.05"/>
<line x1="215.80" y1="315.40" x2="253.30" y2="315.40" stroke="#1a1a1a" stroke-width="1.1"/>
<line x1="213.60" y1="315.40" x2="216.30" y2="315.40" stroke="#1a1a1a" stroke-width="0.9"/>
<text transform="translate(210.10 317.50) scale(0.860 1.000)" font-size="5.9" text-anchor="end" fill="#3c3c3c" stroke="#3c3c3c" stroke-width="0.22">60</text>
<line x1="213.60" y1="296.93" x2="216.30" y2="296.93" stroke="#1a1a1a" stroke-width="0.9"/>
<text transform="translate(210.10 299.03) scale(0.860 1.000)" font-size="5.9" text-anchor="end" fill="#3c3c3c" stroke="#3c3c3c" stroke-width="0.22">70</text>
<line x1="213.60" y1="278.47" x2="216.30" y2="278.47" stroke="#1a1a1a" stroke-width="0.9"/>
<text transform="translate(210.10 280.57) scale(0.860 1.000)" font-size="5.9" text-anchor="end" fill="#3c3c3c" stroke="#3c3c3c" stroke-width="0.22">80</text>
<line x1="213.60" y1="260.00" x2="216.30" y2="260.00" stroke="#1a1a1a" stroke-width="0.9"/>
<text transform="translate(210.10 262.10) scale(0.860 1.000)" font-size="5.9" text-anchor="end" fill="#3c3c3c" stroke="#3c3c3c" stroke-width="0.22">90</text>
<line x1="226.75" y1="315.40" x2="226.75" y2="318.60" stroke="#1a1a1a" stroke-width="0.9"/>
<line x1="242.55" y1="315.40" x2="242.55" y2="318.60" stroke="#1a1a1a" stroke-width="0.9"/>
<text transform="translate(229.05 325.60) rotate(-45) scale(0.963 1.000)" font-size="5.7" text-anchor="end" fill="#3c3c3c" stroke="#3c3c3c" stroke-width="0.22">Control</text>
<text transform="translate(244.85 325.60) rotate(-45) scale(0.879 1.000)" font-size="5.7" text-anchor="end" fill="#3c3c3c" stroke="#3c3c3c" stroke-width="0.22">Ligature</text>
<polyline points="226.50,288.60 226.50,272.90 242.80,272.90 242.80,278.00" fill="none" stroke="#3a3a3a" stroke-width="0.75"/>
<text transform="translate(234.60 274.10) scale(0.85 1)" font-size="5.8" text-anchor="middle" fill="#333" stroke="#333" stroke-width="0.12">***</text>
<text transform="translate(181.60 285.60) rotate(-90) scale(0.880 1.000)" font-size="6.6" text-anchor="middle" fill="#3c3c3c" stroke="#3c3c3c" stroke-width="0.22">Percentage of cells</text>
<text transform="translate(190.40 285.60) rotate(-90) scale(0.880 1.000)" font-size="6.6" text-anchor="middle" fill="#3c3c3c" stroke="#3c3c3c" stroke-width="0.22">with more than one</text>
<text transform="translate(199.20 285.60) rotate(-90) scale(0.910 1.000)" font-size="6.6" text-anchor="middle" fill="#3c3c3c" stroke="#3c3c3c" stroke-width="0.22">proliferation (%)</text>
<text transform="translate(235.00 252.60)" font-size="7.6" text-anchor="middle" fill="#333" stroke="#333" stroke-width="0.22">CD8</text>
<text transform="translate(6.75 364.20) scale(1.0 1)" font-size="11.2" font-weight="bold" fill="#111" stroke="#111" stroke-width="0.35">C</text>
<text transform="translate(265.05 364.00) scale(1.0 1)" font-size="11.2" font-weight="bold" fill="#111" stroke="#111" stroke-width="0.35">D</text>
<text transform="translate(82.50 360.70) scale(0.998 1.000)" font-size="7.4" text-anchor="start" fill="#333" stroke="#333" stroke-width="0.22">LNs (cervical, axillary, and inguinal )</text>
<text transform="translate(390.20 360.70) scale(1.020 1.000)" font-size="7.4" text-anchor="start" fill="#333" stroke="#333" stroke-width="0.22">Spleen</text>
<line x1="17.00" y1="368.80" x2="54.00" y2="368.80" stroke="#333" stroke-width="0.9"/>
<line x1="91.00" y1="368.80" x2="127.50" y2="368.80" stroke="#333" stroke-width="0.9"/>
<text transform="translate(72.50 370.80) scale(1.024 1)" font-size="5.9" text-anchor="middle" fill="#3c3c3c" stroke="#3c3c3c" stroke-width="0.22"><tspan>CD4</tspan><tspan font-size="3.66" dy="-2.1">+</tspan><tspan dy="2.1">/ IL-17</tspan><tspan font-size="3.66" dy="-2.1">+</tspan></text>
<line x1="144.80" y1="368.80" x2="182.00" y2="368.80" stroke="#333" stroke-width="0.9"/>
<line x1="218.20" y1="368.80" x2="254.60" y2="368.80" stroke="#333" stroke-width="0.9"/>
<text transform="translate(200.10 370.80) scale(0.971 1)" font-size="5.9" text-anchor="middle" fill="#3c3c3c" stroke="#3c3c3c" stroke-width="0.22"><tspan>CD8</tspan><tspan font-size="3.66" dy="-2.1">+</tspan><tspan dy="2.1">/ IFN-γ</tspan><tspan font-size="3.66" dy="-2.1">+</tspan></text>
<line x1="275.20" y1="368.80" x2="313.60" y2="368.80" stroke="#333" stroke-width="0.9"/>
<line x1="350.90" y1="368.80" x2="390.20" y2="368.80" stroke="#333" stroke-width="0.9"/>
<text transform="translate(332.25 370.80) scale(1.033 1)" font-size="5.9" text-anchor="middle" fill="#3c3c3c" stroke="#3c3c3c" stroke-width="0.22"><tspan>CD4</tspan><tspan font-size="3.66" dy="-2.1">+</tspan><tspan dy="2.1">/ IL-17</tspan><tspan font-size="3.66" dy="-2.1">+</tspan></text>
<line x1="406.90" y1="368.80" x2="441.20" y2="368.80" stroke="#333" stroke-width="0.9"/>
<line x1="478.90" y1="368.80" x2="513.30" y2="368.80" stroke="#333" stroke-width="0.9"/>
<text transform="translate(460.05 370.80) scale(1.016 1)" font-size="5.9" text-anchor="middle" fill="#3c3c3c" stroke="#3c3c3c" stroke-width="0.22"><tspan>CD8</tspan><tspan font-size="3.66" dy="-2.1">+</tspan><tspan dy="2.1">/ IFN-γ</tspan><tspan font-size="3.66" dy="-2.1">+</tspan></text>
<rect x="32.50" y="423.20" width="8.40" height="14.10" fill="#0f4e8d" stroke="#123b66" stroke-width="0.6"/>
<rect x="46.60" y="414.30" width="8.70" height="23.00" fill="#f28d00" stroke="#e3860a" stroke-width="0.6"/>
<line x1="36.70" y1="421.50" x2="36.70" y2="424.30" stroke="#2a2a2a" stroke-width="0.7"/>
<line x1="35.10" y1="421.50" x2="38.30" y2="421.50" stroke="#2a2a2a" stroke-width="0.7"/>
<line x1="50.95" y1="406.50" x2="50.95" y2="421.50" stroke="#2a2a2a" stroke-width="0.7"/>
<line x1="49.35" y1="406.50" x2="52.55" y2="406.50" stroke="#2a2a2a" stroke-width="0.7"/>
<circle cx="35.35" cy="421.64" r="0.95" fill="#4a4a4a" stroke="#ddd" stroke-width="0.35"/>
<circle cx="37.60" cy="423.37" r="0.95" fill="#4a4a4a" stroke="#ddd" stroke-width="0.35"/>
<circle cx="36.36" cy="422.17" r="0.95" fill="#4a4a4a" stroke="#ddd" stroke-width="0.35"/>
<circle cx="38.16" cy="422.77" r="0.95" fill="#4a4a4a" stroke="#ddd" stroke-width="0.35"/>
<circle cx="35.69" cy="423.96" r="0.95" fill="#4a4a4a" stroke="#ddd" stroke-width="0.35"/>
<circle cx="37.21" cy="421.90" r="0.95" fill="#4a4a4a" stroke="#ddd" stroke-width="0.35"/>
<circle cx="37.83" cy="423.70" r="0.95" fill="#4a4a4a" stroke="#ddd" stroke-width="0.35"/>
<circle cx="35.12" cy="422.50" r="0.95" fill="#4a4a4a" stroke="#ddd" stroke-width="0.35"/>
<circle cx="51.47" cy="408.66" r="0.95" fill="#4a4a4a" stroke="#ddd" stroke-width="0.35"/>
<circle cx="52.11" cy="418.27" r="0.95" fill="#4a4a4a" stroke="#ddd" stroke-width="0.35"/>
<circle cx="49.32" cy="411.86" r="0.95" fill="#4a4a4a" stroke="#ddd" stroke-width="0.35"/>
<circle cx="51.07" cy="415.07" r="0.95" fill="#4a4a4a" stroke="#ddd" stroke-width="0.35"/>
<circle cx="50.25" cy="407.94" r="0.95" fill="#4a4a4a" stroke="#ddd" stroke-width="0.35"/>
<circle cx="52.64" cy="420.77" r="0.95" fill="#4a4a4a" stroke="#ddd" stroke-width="0.35"/>
<circle cx="50.83" cy="411.15" r="0.95" fill="#4a4a4a" stroke="#ddd" stroke-width="0.35"/>
<circle cx="49.55" cy="407.23" r="0.95" fill="#4a4a4a" stroke="#ddd" stroke-width="0.35"/>
<circle cx="51.00" cy="395.20" r="0.95" fill="#4a4a4a" stroke="#ddd" stroke-width="0.35"/>
<circle cx="49.50" cy="401.50" r="0.95" fill="#4a4a4a" stroke="#ddd" stroke-width="0.35"/>
<circle cx="52.50" cy="401.50" r="0.95" fill="#4a4a4a" stroke="#ddd" stroke-width="0.35"/>
<circle cx="48.50" cy="405.50" r="0.95" fill="#4a4a4a" stroke="#ddd" stroke-width="0.35"/>
<line x1="27.10" y1="384.10" x2="27.10" y2="437.80" stroke="#1a1a1a" stroke-width="1.05"/>
<line x1="26.60" y1="437.30" x2="60.60" y2="437.30" stroke="#1a1a1a" stroke-width="1.1"/>
<line x1="24.40" y1="437.30" x2="27.10" y2="437.30" stroke="#1a1a1a" stroke-width="0.9"/>
<text transform="translate(20.90 439.40) scale(0.860 1.000)" font-size="5.9" text-anchor="end" fill="#3c3c3c" stroke="#3c3c3c" stroke-width="0.22">0</text>
<line x1="24.40" y1="424.73" x2="27.10" y2="424.73" stroke="#1a1a1a" stroke-width="0.9"/>
<text transform="translate(20.90 426.83) scale(0.860 1.000)" font-size="5.9" text-anchor="end" fill="#3c3c3c" stroke="#3c3c3c" stroke-width="0.22">1</text>
<line x1="24.40" y1="412.15" x2="27.10" y2="412.15" stroke="#1a1a1a" stroke-width="0.9"/>
<text transform="translate(20.90 414.25) scale(0.860 1.000)" font-size="5.9" text-anchor="end" fill="#3c3c3c" stroke="#3c3c3c" stroke-width="0.22">2</text>
<line x1="24.40" y1="399.57" x2="27.10" y2="399.57" stroke="#1a1a1a" stroke-width="0.9"/>
<text transform="translate(20.90 401.68) scale(0.860 1.000)" font-size="5.9" text-anchor="end" fill="#3c3c3c" stroke="#3c3c3c" stroke-width="0.22">3</text>
<line x1="24.40" y1="387.00" x2="27.10" y2="387.00" stroke="#1a1a1a" stroke-width="0.9"/>
<text transform="translate(20.90 389.10) scale(0.860 1.000)" font-size="5.9" text-anchor="end" fill="#3c3c3c" stroke="#3c3c3c" stroke-width="0.22">4</text>
<line x1="36.70" y1="437.30" x2="36.70" y2="440.50" stroke="#1a1a1a" stroke-width="0.9"/>
<line x1="50.95" y1="437.30" x2="50.95" y2="440.50" stroke="#1a1a1a" stroke-width="0.9"/>
<text transform="translate(39.00 447.50) rotate(-45) scale(0.922 1.000)" font-size="5.7" text-anchor="end" fill="#3c3c3c" stroke="#3c3c3c" stroke-width="0.22">Allo control</text>
<text transform="translate(53.25 447.50) rotate(-45) scale(0.907 1.000)" font-size="5.7" text-anchor="end" fill="#3c3c3c" stroke="#3c3c3c" stroke-width="0.22">Allo ligature</text>
<polyline points="36.70,422.20 36.70,389.00 51.00,389.00 51.00,391.40" fill="none" stroke="#3a3a3a" stroke-width="0.75"/>
<text transform="translate(43.50 390.40) scale(0.85 1)" font-size="5.8" text-anchor="middle" fill="#333" stroke="#333" stroke-width="0.12">***</text>
<text transform="translate(13.14 410.95) rotate(-90) scale(0.850 1.000)" font-size="6.6" text-anchor="middle" fill="#3c3c3c" stroke="#3c3c3c" stroke-width="0.22">Percentage (%)</text>
<rect x="99.70" y="434.80" width="8.50" height="2.50" fill="#0f4e8d" stroke="#123b66" stroke-width="0.6"/>
<rect x="114.30" y="420.20" width="8.30" height="17.10" fill="#f28d00" stroke="#e3860a" stroke-width="0.6"/>
<line x1="103.95" y1="432.00" x2="103.95" y2="437.00" stroke="#2a2a2a" stroke-width="0.7"/>
<line x1="102.35" y1="432.00" x2="105.55" y2="432.00" stroke="#2a2a2a" stroke-width="0.7"/>
<line x1="118.45" y1="409.20" x2="118.45" y2="430.60" stroke="#2a2a2a" stroke-width="0.7"/>
<line x1="116.85" y1="409.20" x2="120.05" y2="409.20" stroke="#2a2a2a" stroke-width="0.7"/>
<circle cx="102.59" cy="432.24" r="0.95" fill="#4a4a4a" stroke="#ddd" stroke-width="0.35"/>
<circle cx="104.86" cy="435.33" r="0.95" fill="#4a4a4a" stroke="#ddd" stroke-width="0.35"/>
<circle cx="103.61" cy="433.19" r="0.95" fill="#4a4a4a" stroke="#ddd" stroke-width="0.35"/>
<circle cx="105.43" cy="434.26" r="0.95" fill="#4a4a4a" stroke="#ddd" stroke-width="0.35"/>
<circle cx="102.93" cy="436.10" r="0.95" fill="#4a4a4a" stroke="#ddd" stroke-width="0.35"/>
<circle cx="104.46" cy="432.72" r="0.95" fill="#4a4a4a" stroke="#ddd" stroke-width="0.35"/>
<circle cx="105.09" cy="435.93" r="0.95" fill="#4a4a4a" stroke="#ddd" stroke-width="0.35"/>
<circle cx="102.36" cy="433.79" r="0.95" fill="#4a4a4a" stroke="#ddd" stroke-width="0.35"/>
<circle cx="118.95" cy="412.28" r="0.95" fill="#4a4a4a" stroke="#ddd" stroke-width="0.35"/>
<circle cx="119.56" cy="426.00" r="0.95" fill="#4a4a4a" stroke="#ddd" stroke-width="0.35"/>
<circle cx="116.89" cy="416.85" r="0.95" fill="#4a4a4a" stroke="#ddd" stroke-width="0.35"/>
<circle cx="118.56" cy="421.42" r="0.95" fill="#4a4a4a" stroke="#ddd" stroke-width="0.35"/>
<circle cx="117.78" cy="411.26" r="0.95" fill="#4a4a4a" stroke="#ddd" stroke-width="0.35"/>
<circle cx="120.06" cy="429.56" r="0.95" fill="#4a4a4a" stroke="#ddd" stroke-width="0.35"/>
<circle cx="118.34" cy="415.83" r="0.95" fill="#4a4a4a" stroke="#ddd" stroke-width="0.35"/>
<circle cx="117.12" cy="410.24" r="0.95" fill="#4a4a4a" stroke="#ddd" stroke-width="0.35"/>
<circle cx="118.50" cy="396.90" r="0.95" fill="#4a4a4a" stroke="#ddd" stroke-width="0.35"/>
<circle cx="118.50" cy="401.70" r="0.95" fill="#4a4a4a" stroke="#ddd" stroke-width="0.35"/>
<circle cx="116.00" cy="415.00" r="0.95" fill="#4a4a4a" stroke="#ddd" stroke-width="0.35"/>
<circle cx="121.00" cy="415.00" r="0.95" fill="#4a4a4a" stroke="#ddd" stroke-width="0.35"/>
<circle cx="104.00" cy="432.50" r="0.95" fill="#4a4a4a" stroke="#ddd" stroke-width="0.35"/>
<circle cx="102.00" cy="433.80" r="0.95" fill="#4a4a4a" stroke="#ddd" stroke-width="0.35"/>
<line x1="94.20" y1="384.10" x2="94.20" y2="437.80" stroke="#1a1a1a" stroke-width="1.05"/>
<line x1="93.70" y1="437.30" x2="127.70" y2="437.30" stroke="#1a1a1a" stroke-width="1.1"/>
<line x1="91.50" y1="437.30" x2="94.20" y2="437.30" stroke="#1a1a1a" stroke-width="0.9"/>
<text transform="translate(88.00 439.40) scale(0.860 1.000)" font-size="5.9" text-anchor="end" fill="#3c3c3c" stroke="#3c3c3c" stroke-width="0.22">0.00</text>
<line x1="91.50" y1="424.73" x2="94.20" y2="424.73" stroke="#1a1a1a" stroke-width="0.9"/>
<text transform="translate(88.00 426.83) scale(0.860 1.000)" font-size="5.9" text-anchor="end" fill="#3c3c3c" stroke="#3c3c3c" stroke-width="0.22">0.05</text>
<line x1="91.50" y1="412.15" x2="94.20" y2="412.15" stroke="#1a1a1a" stroke-width="0.9"/>
<text transform="translate(88.00 414.25) scale(0.860 1.000)" font-size="5.9" text-anchor="end" fill="#3c3c3c" stroke="#3c3c3c" stroke-width="0.22">0.10</text>
<line x1="91.50" y1="399.57" x2="94.20" y2="399.57" stroke="#1a1a1a" stroke-width="0.9"/>
<text transform="translate(88.00 401.68) scale(0.860 1.000)" font-size="5.9" text-anchor="end" fill="#3c3c3c" stroke="#3c3c3c" stroke-width="0.22">0.15</text>
<line x1="91.50" y1="387.00" x2="94.20" y2="387.00" stroke="#1a1a1a" stroke-width="0.9"/>
<text transform="translate(88.00 389.10) scale(0.860 1.000)" font-size="5.9" text-anchor="end" fill="#3c3c3c" stroke="#3c3c3c" stroke-width="0.22">0.20</text>
<line x1="103.95" y1="437.30" x2="103.95" y2="440.50" stroke="#1a1a1a" stroke-width="0.9"/>
<line x1="118.45" y1="437.30" x2="118.45" y2="440.50" stroke="#1a1a1a" stroke-width="0.9"/>
<text transform="translate(106.25 447.50) rotate(-45) scale(0.922 1.000)" font-size="5.7" text-anchor="end" fill="#3c3c3c" stroke="#3c3c3c" stroke-width="0.22">Allo control</text>
<text transform="translate(120.75 447.50) rotate(-45) scale(0.907 1.000)" font-size="5.7" text-anchor="end" fill="#3c3c3c" stroke="#3c3c3c" stroke-width="0.22">Allo ligature</text>
<polyline points="103.70,431.00 103.70,390.70 118.50,390.70 118.50,393.50" fill="none" stroke="#3a3a3a" stroke-width="0.75"/>
<text transform="translate(111.30 391.80) scale(0.85 1)" font-size="5.8" text-anchor="middle" fill="#333" stroke="#333" stroke-width="0.12">***</text>
<text transform="translate(72.19 410.95) rotate(-90) scale(0.909 1.000)" font-size="6.6" text-anchor="middle" fill="#3c3c3c" stroke="#3c3c3c" stroke-width="0.22">Absolute cell number (Mn)</text>
<rect x="162.50" y="423.20" width="8.40" height="14.10" fill="#0f4e8d" stroke="#123b66" stroke-width="0.6"/>
<rect x="177.00" y="413.90" width="8.50" height="23.40" fill="#f28d00" stroke="#e3860a" stroke-width="0.6"/>
<line x1="166.70" y1="418.50" x2="166.70" y2="427.30" stroke="#2a2a2a" stroke-width="0.7"/>
<line x1="165.10" y1="418.50" x2="168.30" y2="418.50" stroke="#2a2a2a" stroke-width="0.7"/>
<line x1="181.25" y1="400.30" x2="181.25" y2="426.90" stroke="#2a2a2a" stroke-width="0.7"/>
<line x1="179.65" y1="400.30" x2="182.85" y2="400.30" stroke="#2a2a2a" stroke-width="0.7"/>
<circle cx="165.35" cy="418.93" r="0.95" fill="#4a4a4a" stroke="#ddd" stroke-width="0.35"/>
<circle cx="167.60" cy="424.36" r="0.95" fill="#4a4a4a" stroke="#ddd" stroke-width="0.35"/>
<circle cx="166.36" cy="420.60" r="0.95" fill="#4a4a4a" stroke="#ddd" stroke-width="0.35"/>
<circle cx="168.16" cy="422.48" r="0.95" fill="#4a4a4a" stroke="#ddd" stroke-width="0.35"/>
<circle cx="165.69" cy="426.24" r="0.95" fill="#4a4a4a" stroke="#ddd" stroke-width="0.35"/>
<circle cx="167.21" cy="419.76" r="0.95" fill="#4a4a4a" stroke="#ddd" stroke-width="0.35"/>
<circle cx="167.82" cy="425.41" r="0.95" fill="#4a4a4a" stroke="#ddd" stroke-width="0.35"/>
<circle cx="165.12" cy="421.65" r="0.95" fill="#4a4a4a" stroke="#ddd" stroke-width="0.35"/>
<circle cx="181.76" cy="404.12" r="0.95" fill="#4a4a4a" stroke="#ddd" stroke-width="0.35"/>
<circle cx="182.39" cy="421.18" r="0.95" fill="#4a4a4a" stroke="#ddd" stroke-width="0.35"/>
<circle cx="179.66" cy="409.81" r="0.95" fill="#4a4a4a" stroke="#ddd" stroke-width="0.35"/>
<circle cx="181.36" cy="415.50" r="0.95" fill="#4a4a4a" stroke="#ddd" stroke-width="0.35"/>
<circle cx="180.57" cy="402.86" r="0.95" fill="#4a4a4a" stroke="#ddd" stroke-width="0.35"/>
<circle cx="182.90" cy="425.60" r="0.95" fill="#4a4a4a" stroke="#ddd" stroke-width="0.35"/>
<circle cx="181.14" cy="408.55" r="0.95" fill="#4a4a4a" stroke="#ddd" stroke-width="0.35"/>
<circle cx="179.88" cy="401.60" r="0.95" fill="#4a4a4a" stroke="#ddd" stroke-width="0.35"/>
<circle cx="180.50" cy="389.40" r="0.95" fill="#4a4a4a" stroke="#ddd" stroke-width="0.35"/>
<circle cx="182.50" cy="389.40" r="0.95" fill="#4a4a4a" stroke="#ddd" stroke-width="0.35"/>
<circle cx="181.30" cy="396.50" r="0.95" fill="#4a4a4a" stroke="#ddd" stroke-width="0.35"/>
<line x1="157.10" y1="384.10" x2="157.10" y2="437.80" stroke="#1a1a1a" stroke-width="1.05"/>
<line x1="156.60" y1="437.30" x2="190.60" y2="437.30" stroke="#1a1a1a" stroke-width="1.1"/>
<line x1="154.40" y1="437.30" x2="157.10" y2="437.30" stroke="#1a1a1a" stroke-width="0.9"/>
<text transform="translate(150.90 439.40) scale(0.860 1.000)" font-size="5.9" text-anchor="end" fill="#3c3c3c" stroke="#3c3c3c" stroke-width="0.22">0</text>
<line x1="154.40" y1="420.53" x2="157.10" y2="420.53" stroke="#1a1a1a" stroke-width="0.9"/>
<text transform="translate(150.90 422.63) scale(0.860 1.000)" font-size="5.9" text-anchor="end" fill="#3c3c3c" stroke="#3c3c3c" stroke-width="0.22">20</text>
<line x1="154.40" y1="403.77" x2="157.10" y2="403.77" stroke="#1a1a1a" stroke-width="0.9"/>
<text transform="translate(150.90 405.87) scale(0.860 1.000)" font-size="5.9" text-anchor="end" fill="#3c3c3c" stroke="#3c3c3c" stroke-width="0.22">40</text>
<line x1="154.40" y1="387.00" x2="157.10" y2="387.00" stroke="#1a1a1a" stroke-width="0.9"/>
<text transform="translate(150.90 389.10) scale(0.860 1.000)" font-size="5.9" text-anchor="end" fill="#3c3c3c" stroke="#3c3c3c" stroke-width="0.22">60</text>
<line x1="166.70" y1="437.30" x2="166.70" y2="440.50" stroke="#1a1a1a" stroke-width="0.9"/>
<line x1="181.25" y1="437.30" x2="181.25" y2="440.50" stroke="#1a1a1a" stroke-width="0.9"/>
<text transform="translate(169.00 447.50) rotate(-45) scale(0.922 1.000)" font-size="5.7" text-anchor="end" fill="#3c3c3c" stroke="#3c3c3c" stroke-width="0.22">Allo control</text>
<text transform="translate(183.55 447.50) rotate(-45) scale(0.907 1.000)" font-size="5.7" text-anchor="end" fill="#3c3c3c" stroke="#3c3c3c" stroke-width="0.22">Allo ligature</text>
<polyline points="166.40,418.10 166.40,383.90 181.40,383.90 181.40,387.30" fill="none" stroke="#3a3a3a" stroke-width="0.75"/>
<text transform="translate(174.20 385.00) scale(0.85 1)" font-size="5.8" text-anchor="middle" fill="#333" stroke="#333" stroke-width="0.12">*</text>
<text transform="translate(140.49 410.95) rotate(-90) scale(0.850 1.000)" font-size="6.6" text-anchor="middle" fill="#3c3c3c" stroke="#3c3c3c" stroke-width="0.22">Percentage (%)</text>
<rect x="227.50" y="430.00" width="8.40" height="7.30" fill="#0f4e8d" stroke="#123b66" stroke-width="0.6"/>
<rect x="241.60" y="419.30" width="8.70" height="18.00" fill="#f28d00" stroke="#e3860a" stroke-width="0.6"/>
<line x1="231.70" y1="422.90" x2="231.70" y2="436.50" stroke="#2a2a2a" stroke-width="0.7"/>
<line x1="230.10" y1="422.90" x2="233.30" y2="422.90" stroke="#2a2a2a" stroke-width="0.7"/>
<line x1="245.95" y1="407.80" x2="245.95" y2="430.20" stroke="#2a2a2a" stroke-width="0.7"/>
<line x1="244.35" y1="407.80" x2="247.55" y2="407.80" stroke="#2a2a2a" stroke-width="0.7"/>
<circle cx="230.35" cy="423.56" r="0.95" fill="#4a4a4a" stroke="#ddd" stroke-width="0.35"/>
<circle cx="232.60" cy="431.96" r="0.95" fill="#4a4a4a" stroke="#ddd" stroke-width="0.35"/>
<circle cx="231.36" cy="426.15" r="0.95" fill="#4a4a4a" stroke="#ddd" stroke-width="0.35"/>
<circle cx="233.16" cy="429.05" r="0.95" fill="#4a4a4a" stroke="#ddd" stroke-width="0.35"/>
<circle cx="230.69" cy="434.87" r="0.95" fill="#4a4a4a" stroke="#ddd" stroke-width="0.35"/>
<circle cx="232.21" cy="424.85" r="0.95" fill="#4a4a4a" stroke="#ddd" stroke-width="0.35"/>
<circle cx="232.82" cy="433.58" r="0.95" fill="#4a4a4a" stroke="#ddd" stroke-width="0.35"/>
<circle cx="230.12" cy="427.76" r="0.95" fill="#4a4a4a" stroke="#ddd" stroke-width="0.35"/>
<circle cx="246.47" cy="411.02" r="0.95" fill="#4a4a4a" stroke="#ddd" stroke-width="0.35"/>
<circle cx="247.11" cy="425.38" r="0.95" fill="#4a4a4a" stroke="#ddd" stroke-width="0.35"/>
<circle cx="244.32" cy="415.81" r="0.95" fill="#4a4a4a" stroke="#ddd" stroke-width="0.35"/>
<circle cx="246.07" cy="420.60" r="0.95" fill="#4a4a4a" stroke="#ddd" stroke-width="0.35"/>
<circle cx="245.25" cy="409.96" r="0.95" fill="#4a4a4a" stroke="#ddd" stroke-width="0.35"/>
<circle cx="247.64" cy="429.11" r="0.95" fill="#4a4a4a" stroke="#ddd" stroke-width="0.35"/>
<circle cx="245.83" cy="414.74" r="0.95" fill="#4a4a4a" stroke="#ddd" stroke-width="0.35"/>
<circle cx="244.55" cy="408.89" r="0.95" fill="#4a4a4a" stroke="#ddd" stroke-width="0.35"/>
<circle cx="246.00" cy="392.80" r="0.95" fill="#4a4a4a" stroke="#ddd" stroke-width="0.35"/>
<circle cx="244.00" cy="411.00" r="0.95" fill="#4a4a4a" stroke="#ddd" stroke-width="0.35"/>
<line x1="221.70" y1="384.10" x2="221.70" y2="437.80" stroke="#1a1a1a" stroke-width="1.05"/>
<line x1="221.20" y1="437.30" x2="255.20" y2="437.30" stroke="#1a1a1a" stroke-width="1.1"/>
<line x1="219.00" y1="437.30" x2="221.70" y2="437.30" stroke="#1a1a1a" stroke-width="0.9"/>
<text transform="translate(215.50 439.40) scale(0.860 1.000)" font-size="5.9" text-anchor="end" fill="#3c3c3c" stroke="#3c3c3c" stroke-width="0.22">0.0</text>
<line x1="219.00" y1="424.73" x2="221.70" y2="424.73" stroke="#1a1a1a" stroke-width="0.9"/>
<text transform="translate(215.50 426.83) scale(0.860 1.000)" font-size="5.9" text-anchor="end" fill="#3c3c3c" stroke="#3c3c3c" stroke-width="0.22">0.2</text>
<line x1="219.00" y1="412.15" x2="221.70" y2="412.15" stroke="#1a1a1a" stroke-width="0.9"/>
<text transform="translate(215.50 414.25) scale(0.860 1.000)" font-size="5.9" text-anchor="end" fill="#3c3c3c" stroke="#3c3c3c" stroke-width="0.22">0.4</text>
<line x1="219.00" y1="399.57" x2="221.70" y2="399.57" stroke="#1a1a1a" stroke-width="0.9"/>
<text transform="translate(215.50 401.68) scale(0.860 1.000)" font-size="5.9" text-anchor="end" fill="#3c3c3c" stroke="#3c3c3c" stroke-width="0.22">0.6</text>
<line x1="219.00" y1="387.00" x2="221.70" y2="387.00" stroke="#1a1a1a" stroke-width="0.9"/>
<text transform="translate(215.50 389.10) scale(0.860 1.000)" font-size="5.9" text-anchor="end" fill="#3c3c3c" stroke="#3c3c3c" stroke-width="0.22">0.8</text>
<line x1="231.70" y1="437.30" x2="231.70" y2="440.50" stroke="#1a1a1a" stroke-width="0.9"/>
<line x1="245.95" y1="437.30" x2="245.95" y2="440.50" stroke="#1a1a1a" stroke-width="0.9"/>
<text transform="translate(234.00 447.50) rotate(-45) scale(0.922 1.000)" font-size="5.7" text-anchor="end" fill="#3c3c3c" stroke="#3c3c3c" stroke-width="0.22">Allo control</text>
<text transform="translate(248.25 447.50) rotate(-45) scale(0.907 1.000)" font-size="5.7" text-anchor="end" fill="#3c3c3c" stroke="#3c3c3c" stroke-width="0.22">Allo ligature</text>
<polyline points="231.40,421.50 231.40,387.30 246.00,387.30 246.00,390.00" fill="none" stroke="#3a3a3a" stroke-width="0.75"/>
<text transform="translate(239.20 388.40) scale(0.85 1)" font-size="5.8" text-anchor="middle" fill="#333" stroke="#333" stroke-width="0.12">*</text>
<text transform="translate(203.19 410.95) rotate(-90) scale(0.909 1.000)" font-size="6.6" text-anchor="middle" fill="#3c3c3c" stroke="#3c3c3c" stroke-width="0.22">Absolute cell number (Mn)</text>
<rect x="294.90" y="412.20" width="8.50" height="25.10" fill="#0f4e8d" stroke="#123b66" stroke-width="0.6"/>
<rect x="309.00" y="413.30" width="8.50" height="24.00" fill="#f28d00" stroke="#e3860a" stroke-width="0.6"/>
<line x1="299.15" y1="400.30" x2="299.15" y2="423.50" stroke="#2a2a2a" stroke-width="0.7"/>
<line x1="297.55" y1="400.30" x2="300.75" y2="400.30" stroke="#2a2a2a" stroke-width="0.7"/>
<line x1="313.25" y1="404.40" x2="313.25" y2="421.60" stroke="#2a2a2a" stroke-width="0.7"/>
<line x1="311.65" y1="404.40" x2="314.85" y2="404.40" stroke="#2a2a2a" stroke-width="0.7"/>
<circle cx="297.78" cy="401.43" r="0.95" fill="#4a4a4a" stroke="#ddd" stroke-width="0.35"/>
<circle cx="300.06" cy="415.76" r="0.95" fill="#4a4a4a" stroke="#ddd" stroke-width="0.35"/>
<circle cx="298.81" cy="405.84" r="0.95" fill="#4a4a4a" stroke="#ddd" stroke-width="0.35"/>
<circle cx="300.63" cy="410.80" r="0.95" fill="#4a4a4a" stroke="#ddd" stroke-width="0.35"/>
<circle cx="298.13" cy="420.72" r="0.95" fill="#4a4a4a" stroke="#ddd" stroke-width="0.35"/>
<circle cx="299.66" cy="403.63" r="0.95" fill="#4a4a4a" stroke="#ddd" stroke-width="0.35"/>
<circle cx="300.29" cy="418.51" r="0.95" fill="#4a4a4a" stroke="#ddd" stroke-width="0.35"/>
<circle cx="297.56" cy="408.59" r="0.95" fill="#4a4a4a" stroke="#ddd" stroke-width="0.35"/>
<circle cx="313.76" cy="406.87" r="0.95" fill="#4a4a4a" stroke="#ddd" stroke-width="0.35"/>
<circle cx="314.39" cy="417.90" r="0.95" fill="#4a4a4a" stroke="#ddd" stroke-width="0.35"/>
<circle cx="311.66" cy="410.55" r="0.95" fill="#4a4a4a" stroke="#ddd" stroke-width="0.35"/>
<circle cx="313.36" cy="414.23" r="0.95" fill="#4a4a4a" stroke="#ddd" stroke-width="0.35"/>
<circle cx="312.57" cy="406.06" r="0.95" fill="#4a4a4a" stroke="#ddd" stroke-width="0.35"/>
<circle cx="314.90" cy="420.76" r="0.95" fill="#4a4a4a" stroke="#ddd" stroke-width="0.35"/>
<circle cx="313.14" cy="409.73" r="0.95" fill="#4a4a4a" stroke="#ddd" stroke-width="0.35"/>
<circle cx="311.88" cy="405.24" r="0.95" fill="#4a4a4a" stroke="#ddd" stroke-width="0.35"/>
<circle cx="299.20" cy="395.20" r="0.95" fill="#4a4a4a" stroke="#ddd" stroke-width="0.35"/>
<circle cx="299.20" cy="397.50" r="0.95" fill="#4a4a4a" stroke="#ddd" stroke-width="0.35"/>
<circle cx="313.30" cy="393.00" r="0.95" fill="#4a4a4a" stroke="#ddd" stroke-width="0.35"/>
<circle cx="310.00" cy="408.50" r="0.95" fill="#4a4a4a" stroke="#ddd" stroke-width="0.35"/>
<line x1="289.10" y1="384.10" x2="289.10" y2="437.80" stroke="#1a1a1a" stroke-width="1.05"/>
<line x1="288.60" y1="437.30" x2="322.60" y2="437.30" stroke="#1a1a1a" stroke-width="1.1"/>
<line x1="286.40" y1="437.30" x2="289.10" y2="437.30" stroke="#1a1a1a" stroke-width="0.9"/>
<text transform="translate(282.90 439.40) scale(0.860 1.000)" font-size="5.9" text-anchor="end" fill="#3c3c3c" stroke="#3c3c3c" stroke-width="0.22">0.0</text>
<line x1="286.40" y1="424.73" x2="289.10" y2="424.73" stroke="#1a1a1a" stroke-width="0.9"/>
<text transform="translate(282.90 426.83) scale(0.860 1.000)" font-size="5.9" text-anchor="end" fill="#3c3c3c" stroke="#3c3c3c" stroke-width="0.22">0.5</text>
<line x1="286.40" y1="412.15" x2="289.10" y2="412.15" stroke="#1a1a1a" stroke-width="0.9"/>
<text transform="translate(282.90 414.25) scale(0.860 1.000)" font-size="5.9" text-anchor="end" fill="#3c3c3c" stroke="#3c3c3c" stroke-width="0.22">1.0</text>
<line x1="286.40" y1="399.57" x2="289.10" y2="399.57" stroke="#1a1a1a" stroke-width="0.9"/>
<text transform="translate(282.90 401.68) scale(0.860 1.000)" font-size="5.9" text-anchor="end" fill="#3c3c3c" stroke="#3c3c3c" stroke-width="0.22">1.5</text>
<line x1="286.40" y1="387.00" x2="289.10" y2="387.00" stroke="#1a1a1a" stroke-width="0.9"/>
<text transform="translate(282.90 389.10) scale(0.860 1.000)" font-size="5.9" text-anchor="end" fill="#3c3c3c" stroke="#3c3c3c" stroke-width="0.22">2.0</text>
<line x1="299.15" y1="437.30" x2="299.15" y2="440.50" stroke="#1a1a1a" stroke-width="0.9"/>
<line x1="313.25" y1="437.30" x2="313.25" y2="440.50" stroke="#1a1a1a" stroke-width="0.9"/>
<text transform="translate(301.45 447.50) rotate(-45) scale(0.922 1.000)" font-size="5.7" text-anchor="end" fill="#3c3c3c" stroke="#3c3c3c" stroke-width="0.22">Allo control</text>
<text transform="translate(315.55 447.50) rotate(-45) scale(0.907 1.000)" font-size="5.7" text-anchor="end" fill="#3c3c3c" stroke="#3c3c3c" stroke-width="0.22">Allo ligature</text>
<polyline points="298.70,390.00 298.70,387.30 313.30,387.30 313.30,390.00" fill="none" stroke="#3a3a3a" stroke-width="0.75"/>
<text transform="translate(306.20 385.50) scale(0.88 1)" font-size="6" text-anchor="middle" fill="#3c3c3c" stroke="#3c3c3c" stroke-width="0.22"><tspan font-style="italic">P</tspan> = .91</text>
<text transform="translate(270.89 410.95) rotate(-90) scale(0.850 1.000)" font-size="6.6" text-anchor="middle" fill="#3c3c3c" stroke="#3c3c3c" stroke-width="0.22">Percentage (%)</text>
<rect x="362.20" y="425.20" width="8.60" height="12.10" fill="#0f4e8d" stroke="#123b66" stroke-width="0.6"/>
<rect x="376.30" y="424.30" width="8.60" height="13.00" fill="#f28d00" stroke="#e3860a" stroke-width="0.6"/>
<line x1="366.50" y1="411.30" x2="366.50" y2="437.30" stroke="#2a2a2a" stroke-width="0.7"/>
<line x1="364.90" y1="411.30" x2="368.10" y2="411.30" stroke="#2a2a2a" stroke-width="0.7"/>
<line x1="380.60" y1="408.50" x2="380.60" y2="437.30" stroke="#2a2a2a" stroke-width="0.7"/>
<line x1="379.00" y1="408.50" x2="382.20" y2="408.50" stroke="#2a2a2a" stroke-width="0.7"/>
<circle cx="365.12" cy="412.63" r="0.95" fill="#4a4a4a" stroke="#ddd" stroke-width="0.35"/>
<circle cx="367.42" cy="429.42" r="0.95" fill="#4a4a4a" stroke="#ddd" stroke-width="0.35"/>
<circle cx="366.15" cy="417.79" r="0.95" fill="#4a4a4a" stroke="#ddd" stroke-width="0.35"/>
<circle cx="368.00" cy="423.61" r="0.95" fill="#4a4a4a" stroke="#ddd" stroke-width="0.35"/>
<circle cx="365.46" cy="435.24" r="0.95" fill="#4a4a4a" stroke="#ddd" stroke-width="0.35"/>
<circle cx="367.02" cy="415.21" r="0.95" fill="#4a4a4a" stroke="#ddd" stroke-width="0.35"/>
<circle cx="367.65" cy="432.65" r="0.95" fill="#4a4a4a" stroke="#ddd" stroke-width="0.35"/>
<circle cx="364.89" cy="421.02" r="0.95" fill="#4a4a4a" stroke="#ddd" stroke-width="0.35"/>
<circle cx="381.12" cy="412.96" r="0.95" fill="#4a4a4a" stroke="#ddd" stroke-width="0.35"/>
<circle cx="381.75" cy="432.83" r="0.95" fill="#4a4a4a" stroke="#ddd" stroke-width="0.35"/>
<circle cx="378.99" cy="419.58" r="0.95" fill="#4a4a4a" stroke="#ddd" stroke-width="0.35"/>
<circle cx="380.72" cy="426.21" r="0.95" fill="#4a4a4a" stroke="#ddd" stroke-width="0.35"/>
<circle cx="379.91" cy="411.48" r="0.95" fill="#4a4a4a" stroke="#ddd" stroke-width="0.35"/>
<circle cx="382.27" cy="436.10" r="0.95" fill="#4a4a4a" stroke="#ddd" stroke-width="0.35"/>
<circle cx="380.49" cy="418.11" r="0.95" fill="#4a4a4a" stroke="#ddd" stroke-width="0.35"/>
<circle cx="379.22" cy="410.01" r="0.95" fill="#4a4a4a" stroke="#ddd" stroke-width="0.35"/>
<circle cx="366.50" cy="396.20" r="0.95" fill="#4a4a4a" stroke="#ddd" stroke-width="0.35"/>
<circle cx="383.00" cy="410.00" r="0.95" fill="#4a4a4a" stroke="#ddd" stroke-width="0.35"/>
<line x1="356.80" y1="384.10" x2="356.80" y2="437.80" stroke="#1a1a1a" stroke-width="1.05"/>
<line x1="356.30" y1="437.30" x2="390.30" y2="437.30" stroke="#1a1a1a" stroke-width="1.1"/>
<line x1="354.10" y1="437.30" x2="356.80" y2="437.30" stroke="#1a1a1a" stroke-width="0.9"/>
<text transform="translate(350.60 439.40) scale(0.860 1.000)" font-size="5.9" text-anchor="end" fill="#3c3c3c" stroke="#3c3c3c" stroke-width="0.22">0.00</text>
<line x1="354.10" y1="424.73" x2="356.80" y2="424.73" stroke="#1a1a1a" stroke-width="0.9"/>
<text transform="translate(350.60 426.83) scale(0.860 1.000)" font-size="5.9" text-anchor="end" fill="#3c3c3c" stroke="#3c3c3c" stroke-width="0.22">0.05</text>
<line x1="354.10" y1="412.15" x2="356.80" y2="412.15" stroke="#1a1a1a" stroke-width="0.9"/>
<text transform="translate(350.60 414.25) scale(0.860 1.000)" font-size="5.9" text-anchor="end" fill="#3c3c3c" stroke="#3c3c3c" stroke-width="0.22">0.10</text>
<line x1="354.10" y1="399.57" x2="356.80" y2="399.57" stroke="#1a1a1a" stroke-width="0.9"/>
<text transform="translate(350.60 401.68) scale(0.860 1.000)" font-size="5.9" text-anchor="end" fill="#3c3c3c" stroke="#3c3c3c" stroke-width="0.22">0.15</text>
<line x1="354.10" y1="387.00" x2="356.80" y2="387.00" stroke="#1a1a1a" stroke-width="0.9"/>
<text transform="translate(350.60 389.10) scale(0.860 1.000)" font-size="5.9" text-anchor="end" fill="#3c3c3c" stroke="#3c3c3c" stroke-width="0.22">0.20</text>
<line x1="366.50" y1="437.30" x2="366.50" y2="440.50" stroke="#1a1a1a" stroke-width="0.9"/>
<line x1="380.60" y1="437.30" x2="380.60" y2="440.50" stroke="#1a1a1a" stroke-width="0.9"/>
<text transform="translate(368.80 447.50) rotate(-45) scale(0.922 1.000)" font-size="5.7" text-anchor="end" fill="#3c3c3c" stroke="#3c3c3c" stroke-width="0.22">Allo control</text>
<text transform="translate(382.90 447.50) rotate(-45) scale(0.907 1.000)" font-size="5.7" text-anchor="end" fill="#3c3c3c" stroke="#3c3c3c" stroke-width="0.22">Allo ligature</text>
<polyline points="366.00,394.20 366.00,390.00 381.10,390.00 381.10,407.10" fill="none" stroke="#3a3a3a" stroke-width="0.75"/>
<text transform="translate(373.80 388.20) scale(0.88 1)" font-size="6" text-anchor="middle" fill="#3c3c3c" stroke="#3c3c3c" stroke-width="0.22"><tspan font-style="italic">P</tspan> = .60</text>
<text transform="translate(334.89 410.95) rotate(-90) scale(0.909 1.000)" font-size="6.6" text-anchor="middle" fill="#3c3c3c" stroke="#3c3c3c" stroke-width="0.22">Absolute cell number (Mn)</text>
<rect x="424.90" y="426.60" width="8.30" height="10.70" fill="#0f4e8d" stroke="#123b66" stroke-width="0.6"/>
<rect x="439.30" y="415.70" width="8.30" height="21.60" fill="#f28d00" stroke="#e3860a" stroke-width="0.6"/>
<line x1="429.05" y1="422.20" x2="429.05" y2="430.40" stroke="#2a2a2a" stroke-width="0.7"/>
<line x1="427.45" y1="422.20" x2="430.65" y2="422.20" stroke="#2a2a2a" stroke-width="0.7"/>
<line x1="443.45" y1="404.40" x2="443.45" y2="426.40" stroke="#2a2a2a" stroke-width="0.7"/>
<line x1="441.85" y1="404.40" x2="445.05" y2="404.40" stroke="#2a2a2a" stroke-width="0.7"/>
<circle cx="427.72" cy="422.60" r="0.95" fill="#4a4a4a" stroke="#ddd" stroke-width="0.35"/>
<circle cx="429.94" cy="427.66" r="0.95" fill="#4a4a4a" stroke="#ddd" stroke-width="0.35"/>
<circle cx="428.72" cy="424.16" r="0.95" fill="#4a4a4a" stroke="#ddd" stroke-width="0.35"/>
<circle cx="430.50" cy="425.91" r="0.95" fill="#4a4a4a" stroke="#ddd" stroke-width="0.35"/>
<circle cx="428.05" cy="429.42" r="0.95" fill="#4a4a4a" stroke="#ddd" stroke-width="0.35"/>
<circle cx="429.55" cy="423.38" r="0.95" fill="#4a4a4a" stroke="#ddd" stroke-width="0.35"/>
<circle cx="430.16" cy="428.64" r="0.95" fill="#4a4a4a" stroke="#ddd" stroke-width="0.35"/>
<circle cx="427.49" cy="425.13" r="0.95" fill="#4a4a4a" stroke="#ddd" stroke-width="0.35"/>
<circle cx="443.95" cy="407.56" r="0.95" fill="#4a4a4a" stroke="#ddd" stroke-width="0.35"/>
<circle cx="444.56" cy="421.67" r="0.95" fill="#4a4a4a" stroke="#ddd" stroke-width="0.35"/>
<circle cx="441.89" cy="412.26" r="0.95" fill="#4a4a4a" stroke="#ddd" stroke-width="0.35"/>
<circle cx="443.56" cy="416.97" r="0.95" fill="#4a4a4a" stroke="#ddd" stroke-width="0.35"/>
<circle cx="442.78" cy="406.52" r="0.95" fill="#4a4a4a" stroke="#ddd" stroke-width="0.35"/>
<circle cx="445.06" cy="425.33" r="0.95" fill="#4a4a4a" stroke="#ddd" stroke-width="0.35"/>
<circle cx="443.34" cy="411.22" r="0.95" fill="#4a4a4a" stroke="#ddd" stroke-width="0.35"/>
<circle cx="442.12" cy="405.47" r="0.95" fill="#4a4a4a" stroke="#ddd" stroke-width="0.35"/>
<circle cx="442.00" cy="395.20" r="0.95" fill="#4a4a4a" stroke="#ddd" stroke-width="0.35"/>
<circle cx="445.50" cy="394.50" r="0.95" fill="#4a4a4a" stroke="#ddd" stroke-width="0.35"/>
<circle cx="430.00" cy="421.00" r="0.95" fill="#4a4a4a" stroke="#ddd" stroke-width="0.35"/>
<circle cx="432.50" cy="420.50" r="0.95" fill="#4a4a4a" stroke="#ddd" stroke-width="0.35"/>
<line x1="419.40" y1="384.10" x2="419.40" y2="437.80" stroke="#1a1a1a" stroke-width="1.05"/>
<line x1="418.90" y1="437.30" x2="452.90" y2="437.30" stroke="#1a1a1a" stroke-width="1.1"/>
<line x1="416.70" y1="437.30" x2="419.40" y2="437.30" stroke="#1a1a1a" stroke-width="0.9"/>
<text transform="translate(413.20 439.40) scale(0.860 1.000)" font-size="5.9" text-anchor="end" fill="#3c3c3c" stroke="#3c3c3c" stroke-width="0.22">0</text>
<line x1="416.70" y1="427.24" x2="419.40" y2="427.24" stroke="#1a1a1a" stroke-width="0.9"/>
<text transform="translate(413.20 429.34) scale(0.860 1.000)" font-size="5.9" text-anchor="end" fill="#3c3c3c" stroke="#3c3c3c" stroke-width="0.22">10</text>
<line x1="416.70" y1="417.18" x2="419.40" y2="417.18" stroke="#1a1a1a" stroke-width="0.9"/>
<text transform="translate(413.20 419.28) scale(0.860 1.000)" font-size="5.9" text-anchor="end" fill="#3c3c3c" stroke="#3c3c3c" stroke-width="0.22">20</text>
<line x1="416.70" y1="407.12" x2="419.40" y2="407.12" stroke="#1a1a1a" stroke-width="0.9"/>
<text transform="translate(413.20 409.22) scale(0.860 1.000)" font-size="5.9" text-anchor="end" fill="#3c3c3c" stroke="#3c3c3c" stroke-width="0.22">30</text>
<line x1="416.70" y1="397.06" x2="419.40" y2="397.06" stroke="#1a1a1a" stroke-width="0.9"/>
<text transform="translate(413.20 399.16) scale(0.860 1.000)" font-size="5.9" text-anchor="end" fill="#3c3c3c" stroke="#3c3c3c" stroke-width="0.22">40</text>
<line x1="416.70" y1="387.00" x2="419.40" y2="387.00" stroke="#1a1a1a" stroke-width="0.9"/>
<text transform="translate(413.20 389.10) scale(0.860 1.000)" font-size="5.9" text-anchor="end" fill="#3c3c3c" stroke="#3c3c3c" stroke-width="0.22">50</text>
<line x1="429.05" y1="437.30" x2="429.05" y2="440.50" stroke="#1a1a1a" stroke-width="0.9"/>
<line x1="443.45" y1="437.30" x2="443.45" y2="440.50" stroke="#1a1a1a" stroke-width="0.9"/>
<text transform="translate(431.35 447.50) rotate(-45) scale(0.922 1.000)" font-size="5.7" text-anchor="end" fill="#3c3c3c" stroke="#3c3c3c" stroke-width="0.22">Allo control</text>
<text transform="translate(445.75 447.50) rotate(-45) scale(0.907 1.000)" font-size="5.7" text-anchor="end" fill="#3c3c3c" stroke="#3c3c3c" stroke-width="0.22">Allo ligature</text>
<polyline points="428.70,419.50 428.70,388.00 443.50,388.00 443.50,390.70" fill="none" stroke="#3a3a3a" stroke-width="0.75"/>
<text transform="translate(436.30 389.50) scale(0.85 1)" font-size="5.8" text-anchor="middle" fill="#333" stroke="#333" stroke-width="0.12">**</text>
<text transform="translate(402.39 410.95) rotate(-90) scale(0.850 1.000)" font-size="6.6" text-anchor="middle" fill="#3c3c3c" stroke="#3c3c3c" stroke-width="0.22">Percentage (%)</text>
<rect x="484.90" y="432.50" width="8.50" height="4.80" fill="#0f4e8d" stroke="#123b66" stroke-width="0.6"/>
<rect x="499.20" y="422.90" width="8.70" height="14.40" fill="#f28d00" stroke="#e3860a" stroke-width="0.6"/>
<line x1="489.15" y1="427.00" x2="489.15" y2="437.30" stroke="#2a2a2a" stroke-width="0.7"/>
<line x1="487.55" y1="427.00" x2="490.75" y2="427.00" stroke="#2a2a2a" stroke-width="0.7"/>
<line x1="503.55" y1="411.90" x2="503.55" y2="433.30" stroke="#2a2a2a" stroke-width="0.7"/>
<line x1="501.95" y1="411.90" x2="505.15" y2="411.90" stroke="#2a2a2a" stroke-width="0.7"/>
<circle cx="487.78" cy="427.51" r="0.95" fill="#4a4a4a" stroke="#ddd" stroke-width="0.35"/>
<circle cx="490.06" cy="433.93" r="0.95" fill="#4a4a4a" stroke="#ddd" stroke-width="0.35"/>
<circle cx="488.81" cy="429.48" r="0.95" fill="#4a4a4a" stroke="#ddd" stroke-width="0.35"/>
<circle cx="490.63" cy="431.71" r="0.95" fill="#4a4a4a" stroke="#ddd" stroke-width="0.35"/>
<circle cx="488.13" cy="436.10" r="0.95" fill="#4a4a4a" stroke="#ddd" stroke-width="0.35"/>
<circle cx="489.66" cy="428.50" r="0.95" fill="#4a4a4a" stroke="#ddd" stroke-width="0.35"/>
<circle cx="490.29" cy="435.16" r="0.95" fill="#4a4a4a" stroke="#ddd" stroke-width="0.35"/>
<circle cx="487.56" cy="430.72" r="0.95" fill="#4a4a4a" stroke="#ddd" stroke-width="0.35"/>
<circle cx="504.07" cy="414.98" r="0.95" fill="#4a4a4a" stroke="#ddd" stroke-width="0.35"/>
<circle cx="504.71" cy="428.70" r="0.95" fill="#4a4a4a" stroke="#ddd" stroke-width="0.35"/>
<circle cx="501.92" cy="419.55" r="0.95" fill="#4a4a4a" stroke="#ddd" stroke-width="0.35"/>
<circle cx="503.67" cy="424.12" r="0.95" fill="#4a4a4a" stroke="#ddd" stroke-width="0.35"/>
<circle cx="502.85" cy="413.96" r="0.95" fill="#4a4a4a" stroke="#ddd" stroke-width="0.35"/>
<circle cx="505.24" cy="432.26" r="0.95" fill="#4a4a4a" stroke="#ddd" stroke-width="0.35"/>
<circle cx="503.43" cy="418.53" r="0.95" fill="#4a4a4a" stroke="#ddd" stroke-width="0.35"/>
<circle cx="502.15" cy="412.94" r="0.95" fill="#4a4a4a" stroke="#ddd" stroke-width="0.35"/>
<circle cx="503.50" cy="393.50" r="0.95" fill="#4a4a4a" stroke="#ddd" stroke-width="0.35"/>
<circle cx="503.50" cy="404.80" r="0.95" fill="#4a4a4a" stroke="#ddd" stroke-width="0.35"/>
<circle cx="502.00" cy="409.90" r="0.95" fill="#4a4a4a" stroke="#ddd" stroke-width="0.35"/>
<circle cx="504.50" cy="409.90" r="0.95" fill="#4a4a4a" stroke="#ddd" stroke-width="0.35"/>
<circle cx="489.20" cy="423.60" r="0.95" fill="#4a4a4a" stroke="#ddd" stroke-width="0.35"/>
<line x1="479.50" y1="384.10" x2="479.50" y2="437.80" stroke="#1a1a1a" stroke-width="1.05"/>
<line x1="479.00" y1="437.30" x2="513.00" y2="437.30" stroke="#1a1a1a" stroke-width="1.1"/>
<line x1="476.80" y1="437.30" x2="479.50" y2="437.30" stroke="#1a1a1a" stroke-width="0.9"/>
<text transform="translate(473.30 439.40) scale(0.860 1.000)" font-size="5.9" text-anchor="end" fill="#3c3c3c" stroke="#3c3c3c" stroke-width="0.22">0</text>
<line x1="476.80" y1="420.53" x2="479.50" y2="420.53" stroke="#1a1a1a" stroke-width="0.9"/>
<text transform="translate(473.30 422.63) scale(0.860 1.000)" font-size="5.9" text-anchor="end" fill="#3c3c3c" stroke="#3c3c3c" stroke-width="0.22">1</text>
<line x1="476.80" y1="403.77" x2="479.50" y2="403.77" stroke="#1a1a1a" stroke-width="0.9"/>
<text transform="translate(473.30 405.87) scale(0.860 1.000)" font-size="5.9" text-anchor="end" fill="#3c3c3c" stroke="#3c3c3c" stroke-width="0.22">2</text>
<line x1="476.80" y1="387.00" x2="479.50" y2="387.00" stroke="#1a1a1a" stroke-width="0.9"/>
<text transform="translate(473.30 389.10) scale(0.860 1.000)" font-size="5.9" text-anchor="end" fill="#3c3c3c" stroke="#3c3c3c" stroke-width="0.22">3</text>
<line x1="489.15" y1="437.30" x2="489.15" y2="440.50" stroke="#1a1a1a" stroke-width="0.9"/>
<line x1="503.55" y1="437.30" x2="503.55" y2="440.50" stroke="#1a1a1a" stroke-width="0.9"/>
<text transform="translate(491.45 447.50) rotate(-45) scale(0.922 1.000)" font-size="5.7" text-anchor="end" fill="#3c3c3c" stroke="#3c3c3c" stroke-width="0.22">Allo control</text>
<text transform="translate(505.85 447.50) rotate(-45) scale(0.907 1.000)" font-size="5.7" text-anchor="end" fill="#3c3c3c" stroke="#3c3c3c" stroke-width="0.22">Allo ligature</text>
<polyline points="489.40,422.20 489.40,387.30 503.30,387.30 503.30,390.00" fill="none" stroke="#3a3a3a" stroke-width="0.75"/>
<text transform="translate(496.50 388.40) scale(0.85 1)" font-size="5.8" text-anchor="middle" fill="#333" stroke="#333" stroke-width="0.12">**</text>
<text transform="translate(465.29 410.95) rotate(-90) scale(0.909 1.000)" font-size="6.6" text-anchor="middle" fill="#3c3c3c" stroke="#3c3c3c" stroke-width="0.22">Absolute cell number (Mn)</text>
<rect x="0" y="0" width="520" height="1" fill="#6c6c6c"/>
<rect x="0" y="474" width="520" height="1" fill="#6c6c6c"/>
<rect x="0" y="0" width="1" height="475" fill="#6a6a6a"/>
<rect x="519" y="0" width="1" height="475" fill="#6a6a6a"/>
</svg>
</body></html>
